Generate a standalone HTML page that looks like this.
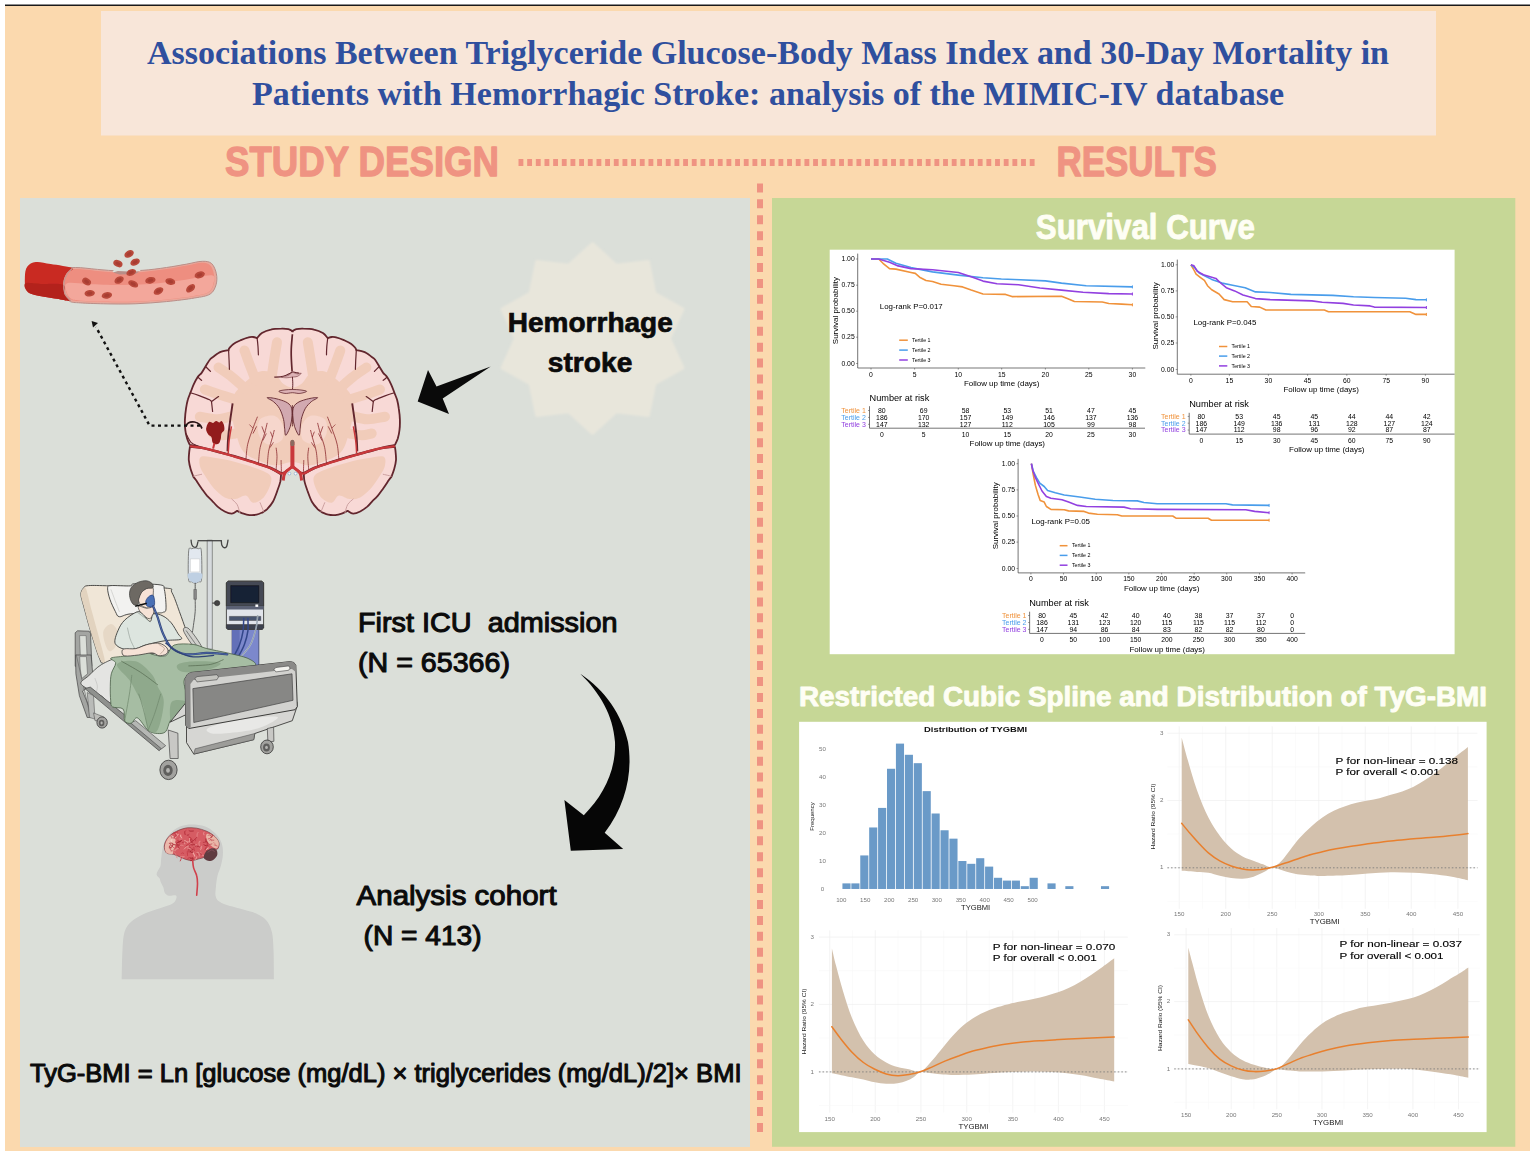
<!DOCTYPE html>
<html><head><meta charset="utf-8"><title>Graphical abstract</title>
<style>
html,body{margin:0;padding:0;background:#fff;}
body{width:1535px;height:1156px;overflow:hidden;font-family:"Liberation Sans",sans-serif;}
svg{display:block}
svg text{font-family:"Liberation Sans",sans-serif;}
.serif{font-family:"Liberation Serif",serif !important;}
</style></head><body>
<svg width="1535" height="1156" viewBox="0 0 1535 1156">
<defs>
<filter id="soft" x="-2%" y="-2%" width="104%" height="104%"><feGaussianBlur stdDeviation="0.45"/></filter>
<filter id="soft2" x="-2%" y="-2%" width="104%" height="104%"><feGaussianBlur stdDeviation="0.3"/></filter>
<filter id="blur1" x="-5%" y="-5%" width="110%" height="110%"><feGaussianBlur stdDeviation="1.1"/></filter>
</defs>
<rect x="0" y="0" width="1535" height="1156" fill="#ffffff"/>
<rect x="5" y="6" width="1525" height="1145" fill="#FBD9AE"/>
<rect x="5" y="4.5" width="1525" height="1.5" fill="#1a1a1a"/>
<rect x="101" y="11" width="1335" height="124.5" fill="#F8E6D9"/>
<g class="serif" font-weight="bold" font-size="34" fill="#2F4F9E" text-anchor="middle">
<text class="serif" x="768" y="64.3" textLength="1242" lengthAdjust="spacingAndGlyphs">Associations Between Triglyceride Glucose-Body Mass Index and 30-Day Mortality in</text>
<text class="serif" x="768" y="104.7" textLength="1032" lengthAdjust="spacingAndGlyphs">Patients with Hemorrhagic Stroke: analysis of the MIMIC-IV database</text>
</g>
<g font-weight="bold" fill="#EF9382" stroke="#EF9382" stroke-width="1.3" stroke-linejoin="round">
<text x="225" y="176" font-size="43" textLength="274" lengthAdjust="spacingAndGlyphs">STUDY DESIGN</text>
<text x="1056.6" y="176" font-size="43" textLength="160.3" lengthAdjust="spacingAndGlyphs">RESULTS</text>
</g>
<line x1="518.5" y1="162.5" x2="1035" y2="162.5" stroke="#EF9382" stroke-width="7" stroke-dasharray="4.85 3.815"/>
<line x1="760" y1="183.4" x2="760" y2="1132.2" stroke="#EF9382" stroke-width="6" stroke-dasharray="9 6.924"/>
<rect x="20" y="198" width="730" height="949" fill="#DBDFD9"/>
<rect x="772" y="198" width="743.3" height="948.8" fill="#C6D796"/>
<g font-weight="bold" fill="#FEFEF4" stroke="#FEFEF4" stroke-width="0.9" stroke-linejoin="round">
<text x="1035.8" y="238.5" font-size="35" textLength="219" lengthAdjust="spacingAndGlyphs">Survival Curve</text>
<text x="799" y="705.7" font-size="27" textLength="688" lengthAdjust="spacingAndGlyphs">Restricted Cubic Spline and Distribution of TyG-BMI</text>
</g>
<rect x="829.7" y="249.7" width="624.9" height="404.5" fill="#ffffff"/>
<rect x="799.1" y="721.8" width="687.5" height="410.3" fill="#ffffff"/>
<g id="vessel" filter="url(#soft2)">
<path d="M64.7,269.9 C66.9,267.8 70.2,267.6 75.7,267.5 C81.1,267.4 90.3,268.8 97.6,269.4 C104.9,270.0 111.9,270.8 119.4,271.0 C127.0,271.1 135.1,270.9 142.9,270.3 C150.7,269.8 159.1,268.6 166.4,267.5 C173.6,266.5 180.7,265.1 186.7,264.1 C192.7,263.0 198.1,261.3 202.3,261.3 C206.5,261.2 209.3,261.5 211.7,263.6 C214.0,265.7 215.7,270.3 216.4,273.8 C217.1,277.3 217.1,281.3 216.1,284.7 C215.0,288.1 213.7,291.9 210.1,294.1 C206.5,296.3 201.8,296.8 194.5,298.0 C187.2,299.3 176.3,300.6 166.4,301.6 C156.4,302.6 145.5,303.4 135.1,303.8 C124.7,304.2 112.9,304.0 103.8,303.8 C94.7,303.6 86.1,303.3 80.4,302.9 C74.6,302.4 72.1,302.9 69.4,301.1 C66.7,299.4 65.1,296.1 63.9,292.5 C62.8,289.0 62.2,283.8 62.4,280.0 C62.5,276.3 62.5,272.0 64.7,269.9 Z" fill="#E9A79A" stroke="#B98E88" stroke-width="1"/>
<path d="M67.1,271.0 C69.2,269.0 72.1,269.1 77.2,269.1 C82.3,269.1 90.5,270.4 97.6,271.0 C104.6,271.5 111.9,272.4 119.4,272.5 C127.0,272.7 135.1,272.5 142.9,271.9 C150.7,271.3 159.1,270.1 166.4,269.1 C173.6,268.0 180.8,266.7 186.7,265.6 C192.5,264.6 197.6,262.9 201.5,262.8 C205.4,262.8 208.0,263.2 210.1,265.2 C212.2,267.1 213.4,271.4 214.0,274.6 C214.6,277.7 214.7,280.9 213.7,283.9 C212.8,286.9 211.6,290.5 208.3,292.5 C204.9,294.6 200.7,295.1 193.7,296.3 C186.7,297.5 176.1,298.8 166.4,299.7 C156.6,300.7 145.5,301.6 135.1,301.9 C124.7,302.3 112.8,302.1 103.8,301.9 C94.8,301.8 86.6,301.6 81.1,301.1 C75.7,300.7 73.5,301.0 71.0,299.4 C68.4,297.9 67.1,294.9 66.0,291.8 C64.9,288.7 64.2,284.3 64.4,280.8 C64.6,277.3 64.9,272.9 67.1,271.0 Z" fill="#EE8E80"/>
<path d="M67.1,283.2 C70.7,281.9 79.4,283.6 88.2,283.9 C96.9,284.3 109.0,285.0 119.4,285.0 C129.9,285.0 140.3,284.7 150.7,283.9 C161.1,283.2 171.8,281.8 182.0,280.3 C192.1,278.9 206.5,274.7 211.7,275.3 C216.9,275.9 213.8,281.1 213.3,283.9 C212.7,286.8 211.5,290.2 208.3,292.2 C205.0,294.2 200.7,294.8 193.7,296.0 C186.7,297.2 176.1,298.5 166.4,299.4 C156.6,300.4 145.5,301.2 135.1,301.6 C124.7,302.0 112.8,301.8 103.8,301.6 C94.8,301.5 86.6,301.1 81.1,300.7 C75.7,300.2 73.7,300.3 71.3,298.8 C68.9,297.3 67.3,294.4 66.6,291.8 C65.9,289.2 63.5,284.5 67.1,283.2 Z" fill="#F3A79B"/>
<path d="M24.9,276.9 C25.0,273.0 25.4,269.2 27.2,266.7 C29.0,264.3 31.9,262.5 35.8,262.1 C39.7,261.6 44.5,263.0 50.7,264.1 C56.8,265.1 69.9,266.7 72.5,268.3 C75.1,269.9 67.9,271.3 66.3,273.8 C64.7,276.3 63.5,279.8 63.2,283.2 C62.8,286.5 63.2,291.2 64.4,294.1 C65.6,297.0 71.4,299.9 70.2,300.7 C68.9,301.5 62.8,299.8 56.9,298.8 C51.0,297.8 40.1,296.3 35.0,294.9 C29.9,293.5 28.1,293.2 26.4,290.2 C24.7,287.2 24.7,280.8 24.9,276.9 Z" fill="#C92A22"/>
<path d="M25.6,283.2 C28.1,282.1 35.0,283.7 41.3,283.9 C47.5,284.2 59.3,283.0 63.2,284.7 C67.0,286.4 63.2,291.4 64.4,294.1 C65.6,296.8 71.4,299.9 70.2,300.7 C68.9,301.5 62.8,299.8 56.9,298.8 C51.0,297.8 40.1,296.3 35.0,294.9 C29.9,293.5 28.0,292.1 26.4,290.2 C24.9,288.2 23.2,284.2 25.6,283.2 Z" fill="#B3241E"/>
<path d="M72.5,268.3 C71.6,269.2 68.5,271.3 67.1,273.8 C65.6,276.3 64.3,279.8 63.9,283.2 C63.6,286.5 63.9,291.2 65.0,294.1 C66.2,297.0 69.7,299.6 70.7,300.7" fill="none" stroke="#C9958E" stroke-width="1.4"/>
<polygon points="112.4,271.9 115.1,268.3 119.4,269.4 128.8,270.3 135.1,269.1 138.2,267.2 140.6,271.0 128.8,272.5 119.4,272.8" fill="#DBDFD9"/>
<polygon points="113.2,272.5 117.9,271.0 128.8,271.6 139.8,271.6 135.1,274.1 119.4,274.6" fill="#B98E88"/>
<g transform="translate(86.6,281.6) rotate(30)"><ellipse rx="4.7" ry="3.4" fill="#B8483A"/><ellipse rx="2.6" ry="1.7" fill="#A83E33"/></g>
<g transform="translate(89.7,293.3) rotate(-5)"><ellipse rx="5.2" ry="3.3" fill="#B8483A"/><ellipse rx="2.8" ry="1.6" fill="#A83E33"/></g>
<g transform="translate(106.9,295.4) rotate(-10)"><ellipse rx="5.2" ry="3.3" fill="#B8483A"/><ellipse rx="2.8" ry="1.6" fill="#A83E33"/></g>
<g transform="translate(119.1,280.0) rotate(-30)"><ellipse rx="5.0" ry="3.4" fill="#B8483A"/><ellipse rx="2.8" ry="1.7" fill="#A83E33"/></g>
<g transform="translate(131.2,272.5) rotate(-20)"><ellipse rx="5.0" ry="3.1" fill="#B8483A"/><ellipse rx="2.8" ry="1.6" fill="#A83E33"/></g>
<g transform="translate(133.2,283.9) rotate(25)"><ellipse rx="5.3" ry="3.1" fill="#B8483A"/><ellipse rx="2.9" ry="1.6" fill="#A83E33"/></g>
<g transform="translate(150.4,280.3) rotate(-12)"><ellipse rx="5.2" ry="3.3" fill="#B8483A"/><ellipse rx="2.8" ry="1.6" fill="#A83E33"/></g>
<g transform="translate(170.3,281.6) rotate(12)"><ellipse rx="5.0" ry="3.3" fill="#B8483A"/><ellipse rx="2.8" ry="1.6" fill="#A83E33"/></g>
<g transform="translate(158.5,291.0) rotate(-28)"><ellipse rx="5.2" ry="3.3" fill="#B8483A"/><ellipse rx="2.8" ry="1.6" fill="#A83E33"/></g>
<g transform="translate(190.6,288.3) rotate(-40)"><ellipse rx="5.2" ry="3.3" fill="#B8483A"/><ellipse rx="2.8" ry="1.6" fill="#A83E33"/></g>
<g transform="translate(199.7,274.9) rotate(-18)"><ellipse rx="5.2" ry="3.3" fill="#B8483A"/><ellipse rx="2.8" ry="1.6" fill="#A83E33"/></g>
<g transform="translate(129.1,253.9) rotate(-30)"><ellipse rx="5.0" ry="3.4" fill="#B8483A"/><ellipse rx="2.8" ry="1.7" fill="#A83E33"/></g>
<g transform="translate(117.9,263.6) rotate(25)"><ellipse rx="4.8" ry="3.3" fill="#B8483A"/><ellipse rx="2.7" ry="1.6" fill="#A83E33"/></g>
<g transform="translate(135.1,262.1) rotate(-25)"><ellipse rx="5.0" ry="3.3" fill="#B8483A"/><ellipse rx="2.8" ry="1.6" fill="#A83E33"/></g>
</g>
<g id="brain" filter="url(#soft2)">
<path d="M292.9,331.4 C292.2,331.0 290.4,329.7 288.5,329.2 C286.6,328.8 284.4,328.6 281.4,328.7 C278.5,328.7 274.0,328.8 270.8,329.6 C267.5,330.3 264.2,331.7 261.9,333.1 C259.6,334.5 257.9,337.3 257.1,338.1 L257.1,338.1 C256.4,337.9 254.6,337.1 253.0,337.0 C251.5,336.9 249.8,337.0 247.7,337.6 C245.6,338.1 243.0,339.2 240.6,340.2 C238.3,341.3 235.4,342.6 233.5,343.9 C231.7,345.2 230.3,347.0 229.4,348.0 C228.6,349.1 228.7,349.8 228.6,350.2 L228.6,350.2 C227.7,350.3 224.9,350.7 223.2,351.2 C221.6,351.7 220.1,352.0 218.5,353.0 C216.8,353.9 214.6,355.8 213.1,356.9 C211.7,358.0 211.0,358.1 209.8,359.7 C208.5,361.3 206.9,364.3 205.5,366.5 C204.1,368.7 202.9,371.1 201.6,372.9 C200.3,374.6 199.0,375.1 197.7,377.1 C196.4,379.1 194.8,382.1 193.6,384.7 C192.4,387.3 191.0,391.4 190.4,392.7 L190.4,392.7 C190.0,393.9 188.5,397.2 187.8,399.8 C187.0,402.5 186.5,405.3 186.0,408.7 C185.5,412.0 185.1,416.3 184.9,419.9 C184.8,423.4 184.9,426.9 185.3,430.0 C185.6,433.1 186.3,436.0 187.1,438.5 C187.8,441.0 189.4,443.9 189.9,445.0 L189.9,445.0 C191.6,445.3 195.5,445.8 199.8,446.8 C204.1,447.8 210.2,449.4 215.8,450.9 C221.4,452.4 227.3,453.9 233.5,455.7 C239.7,457.5 246.8,459.6 253.0,461.5 C259.2,463.5 266.0,465.7 270.8,467.6 C275.5,469.5 278.8,472.4 281.4,472.9 C284.1,473.4 284.9,471.8 286.7,470.8 C288.6,469.7 291.5,467.1 292.4,466.3 L292.4,466.3 C293.4,467.1 296.3,469.7 298.1,470.8 C299.9,471.8 300.7,473.4 303.4,472.9 C306.1,472.4 309.3,469.5 314.0,467.6 C318.8,465.7 325.6,463.5 331.8,461.5 C338.0,459.6 345.1,457.5 351.3,455.7 C357.5,453.9 363.4,452.4 369.0,450.9 C374.6,449.4 380.7,447.8 385.0,446.8 C389.3,445.8 393.3,445.3 394.9,445.0 L394.9,445.0 C395.4,443.9 397.0,441.0 397.8,438.5 C398.5,436.0 399.2,433.1 399.5,430.0 C399.9,426.9 400.0,423.4 399.9,419.9 C399.8,416.3 399.3,412.0 398.8,408.7 C398.4,405.3 397.8,402.5 397.1,399.8 C396.3,397.2 394.8,393.9 394.4,392.7 L394.4,392.7 C393.9,391.4 392.4,387.3 391.2,384.7 C390.0,382.1 388.5,379.1 387.1,377.1 C385.8,375.1 384.5,374.6 383.2,372.9 C381.9,371.1 380.7,368.7 379.3,366.5 C378.0,364.3 376.3,361.3 375.1,359.7 C373.8,358.1 373.1,358.0 371.7,356.9 C370.2,355.8 368.1,353.9 366.4,353.0 C364.7,352.0 363.3,351.7 361.6,351.2 C359.9,350.7 357.1,350.3 356.3,350.2 L356.3,350.2 C356.1,349.8 356.2,349.1 355.4,348.0 C354.5,347.0 353.2,345.2 351.3,343.9 C349.4,342.6 346.6,341.3 344.2,340.2 C341.8,339.2 339.2,338.1 337.1,337.6 C335.0,337.0 333.4,336.9 331.8,337.0 C330.2,337.1 328.4,337.9 327.7,338.1 L327.7,338.1 C326.9,337.3 325.2,334.5 322.9,333.1 C320.6,331.7 317.3,330.3 314.0,329.6 C310.8,328.8 306.4,328.7 303.4,328.7 C300.5,328.6 298.2,328.8 296.3,329.2 C294.4,329.7 292.6,331.0 291.9,331.4 Z" fill="#F8D9D6" stroke="#62262D" stroke-width="1.8" stroke-linejoin="round"/>
<path d="M189.9,447.0 C191.8,447.2 197.0,447.2 201.6,448.1 C206.2,448.9 211.9,450.7 217.6,452.1 C223.2,453.6 229.4,455.2 235.3,456.9 C241.2,458.6 247.1,460.3 253.0,462.2 C258.9,464.2 266.1,466.6 270.8,468.6 C275.4,470.6 279.3,473.4 281.1,474.3 L281.1,474.3 C280.9,475.5 280.9,478.7 280.4,481.4 C279.8,484.1 278.8,486.9 277.5,490.3 C276.3,493.7 274.6,498.7 272.9,501.8 C271.2,504.9 268.9,507.3 267.2,509.1 C265.5,510.8 263.5,511.7 262.8,512.3 L262.8,512.3 C261.8,512.7 258.8,514.3 256.6,514.7 C254.4,515.2 251.9,515.3 249.5,515.1 C247.1,514.9 244.5,514.0 242.4,513.3 C240.3,512.6 238.0,511.3 237.1,510.8 L237.1,510.8 C236.2,511.3 233.8,513.6 231.8,513.7 C229.7,513.8 227.0,512.7 224.7,511.5 C222.3,510.4 219.6,508.3 217.6,506.6 C215.6,504.9 213.4,502.1 212.6,501.3 L212.6,501.3 C211.7,500.3 208.8,497.7 206.9,495.6 C205.1,493.5 203.4,491.0 201.6,488.5 C199.8,486.0 197.6,482.5 196.3,480.5 C194.9,478.6 193.9,477.4 193.4,476.8 L193.4,476.8 C193.0,475.5 191.4,471.8 190.6,469.0 C189.8,466.2 189.1,462.9 188.8,460.1 C188.6,457.3 189.0,454.3 189.2,452.1 C189.4,449.9 189.8,447.8 189.9,447.0 Z" fill="#F8D9D6" stroke="#62262D" stroke-width="1.8" stroke-linejoin="round"/>
<path d="M394.9,447.0 C395.0,447.8 395.5,449.9 395.6,452.1 C395.8,454.3 396.2,457.3 396.0,460.1 C395.8,462.9 395.0,466.2 394.2,469.0 C393.4,471.8 391.9,475.5 391.4,476.8 L391.4,476.8 C390.9,477.4 389.9,478.6 388.5,480.5 C387.2,482.5 385.0,486.0 383.2,488.5 C381.4,491.0 379.7,493.5 377.9,495.6 C376.1,497.7 373.2,500.3 372.2,501.3 L372.2,501.3 C371.4,502.1 369.3,504.9 367.3,506.6 C365.2,508.3 362.5,510.4 360.2,511.5 C357.8,512.7 355.1,513.8 353.1,513.7 C351.0,513.6 348.6,511.3 347.7,510.8 L347.7,510.8 C346.9,511.3 344.5,512.6 342.4,513.3 C340.4,514.0 337.7,514.9 335.3,515.1 C333.0,515.3 330.5,515.2 328.2,514.7 C326.0,514.3 323.1,512.7 322.0,512.3 L322.0,512.3 C321.3,511.7 319.3,510.8 317.6,509.1 C315.9,507.3 313.6,504.9 311.9,501.8 C310.2,498.7 308.6,493.7 307.3,490.3 C306.1,486.9 305.1,484.1 304.5,481.4 C303.9,478.7 303.9,475.5 303.8,474.3 L303.8,474.3 C305.5,473.4 309.4,470.6 314.0,468.6 C318.7,466.6 325.9,464.2 331.8,462.2 C337.7,460.3 343.6,458.6 349.5,456.9 C355.4,455.2 361.6,453.6 367.3,452.1 C372.9,450.7 378.6,448.9 383.2,448.1 C387.8,447.2 393.0,447.2 394.9,447.0 Z" fill="#F8D9D6" stroke="#62262D" stroke-width="1.8" stroke-linejoin="round"/>
<path d="M249.5,378.5 C253.8,374.7 256.0,372.3 260.1,371.4 C264.3,370.5 270.5,371.1 274.3,373.2 C278.2,375.3 280.2,381.5 283.2,383.8 C286.2,386.2 289.3,387.4 292.4,387.4 C295.5,387.4 298.6,386.2 301.6,383.8 C304.6,381.5 306.7,375.3 310.5,373.2 C314.3,371.1 320.6,370.5 324.7,371.4 C328.8,372.3 331.0,374.7 335.3,378.5 C339.6,382.4 347.6,388.9 350.6,394.5 C353.6,400.1 353.5,405.7 353.2,412.2 C352.9,418.7 350.7,427.0 348.8,433.5 C346.9,440.0 345.3,446.8 341.7,451.2 C338.2,455.7 332.8,457.7 327.5,460.1 C322.2,462.5 315.6,465.1 309.8,465.4 C303.9,465.7 298.2,461.9 292.4,461.9 C286.6,461.9 280.9,465.7 275.0,465.4 C269.2,465.1 262.6,462.5 257.3,460.1 C252.0,457.7 246.7,455.7 243.1,451.2 C239.6,446.8 237.9,440.0 236.0,433.5 C234.1,427.0 231.9,418.7 231.6,412.2 C231.3,405.7 231.3,400.1 234.2,394.5 C237.2,388.9 245.2,382.4 249.5,378.5 Z" fill="#F1CCBA"/>
<path d="M271.7,376.8 C272.1,373.8 273.4,364.8 274.3,359.0 C275.2,353.3 276.5,345.0 277.0,342.2" fill="none" stroke="#F1CCBA" stroke-width="10" stroke-linecap="round" stroke-linejoin="round"/>
<path d="M313.2,376.8 C312.7,373.8 311.4,364.8 310.5,359.0 C309.6,353.3 308.3,345.0 307.8,342.2" fill="none" stroke="#F1CCBA" stroke-width="10" stroke-linecap="round" stroke-linejoin="round"/>
<path d="M255.7,380.3 C254.7,377.6 251.4,369.3 249.5,364.3 C247.6,359.4 245.4,352.8 244.5,350.5" fill="none" stroke="#F1CCBA" stroke-width="10" stroke-linecap="round" stroke-linejoin="round"/>
<path d="M329.1,380.3 C330.2,377.6 333.5,369.3 335.3,364.3 C337.2,359.4 339.5,352.8 340.3,350.5" fill="none" stroke="#F1CCBA" stroke-width="10" stroke-linecap="round" stroke-linejoin="round"/>
<path d="M245.9,389.2 C243.6,387.1 236.3,380.4 231.8,376.8 C227.2,373.1 220.7,369.1 218.5,367.5" fill="none" stroke="#F1CCBA" stroke-width="10" stroke-linecap="round" stroke-linejoin="round"/>
<path d="M338.9,389.2 C341.2,387.1 348.5,380.4 353.1,376.8 C357.6,373.1 364.2,369.1 366.4,367.5" fill="none" stroke="#F1CCBA" stroke-width="10" stroke-linecap="round" stroke-linejoin="round"/>
<path d="M236.2,399.8 C233.4,398.9 224.6,396.2 219.3,394.5 C214.1,392.8 207.2,390.4 204.8,389.5" fill="none" stroke="#F1CCBA" stroke-width="10" stroke-linecap="round" stroke-linejoin="round"/>
<path d="M348.6,399.8 C351.4,398.9 360.3,396.2 365.5,394.5 C370.7,392.8 377.6,390.4 380.0,389.5" fill="none" stroke="#F1CCBA" stroke-width="10" stroke-linecap="round" stroke-linejoin="round"/>
<path d="M233.5,415.8 C230.9,416.4 223.2,419.2 217.6,419.3 C211.9,419.5 202.8,417.1 199.8,416.7" fill="none" stroke="#F1CCBA" stroke-width="10" stroke-linecap="round" stroke-linejoin="round"/>
<path d="M351.3,415.8 C354.0,416.4 361.6,419.2 367.3,419.3 C372.9,419.5 382.0,417.1 385.0,416.7" fill="none" stroke="#F1CCBA" stroke-width="10" stroke-linecap="round" stroke-linejoin="round"/>
<path d="M235.3,433.5 C233.2,433.8 226.6,435.3 222.9,435.3 C219.2,435.3 214.8,433.8 213.1,433.5" fill="none" stroke="#F1CCBA" stroke-width="10" stroke-linecap="round" stroke-linejoin="round"/>
<path d="M349.5,433.5 C351.6,433.8 358.2,435.3 361.9,435.3 C365.6,435.3 370.1,433.8 371.7,433.5" fill="none" stroke="#F1CCBA" stroke-width="10" stroke-linecap="round" stroke-linejoin="round"/>
<path d="M201.6,456.6 C204.6,455.4 211.9,457.5 217.6,458.3 C223.2,459.2 229.4,460.4 235.3,461.9 C241.2,463.4 247.4,465.1 253.0,467.2 C258.7,469.3 266.0,471.6 269.0,474.3 C272.0,477.0 271.7,479.3 270.8,483.2 C269.9,487.0 266.6,494.1 263.7,497.4 C260.7,500.6 256.0,503.0 253.0,502.7 C250.1,502.4 248.9,496.2 245.9,495.6 C243.0,495.0 238.8,498.8 235.3,499.1 C231.8,499.4 228.2,499.1 224.7,497.4 C221.1,495.6 217.3,492.0 214.0,488.5 C210.8,484.9 207.5,479.9 205.2,476.1 C202.8,472.2 200.4,468.7 199.8,465.4 C199.2,462.2 198.6,457.7 201.6,456.6 Z" fill="#F1CCBA"/>
<path d="M383.2,456.6 C380.3,455.4 372.9,457.5 367.3,458.3 C361.6,459.2 355.4,460.4 349.5,461.9 C343.6,463.4 337.4,465.1 331.8,467.2 C326.2,469.3 318.8,471.6 315.8,474.3 C312.9,477.0 313.2,479.3 314.0,483.2 C314.9,487.0 318.2,494.1 321.1,497.4 C324.1,500.6 328.8,503.0 331.8,502.7 C334.7,502.4 335.9,496.2 338.9,495.6 C341.8,495.0 346.0,498.8 349.5,499.1 C353.1,499.4 356.6,499.1 360.2,497.4 C363.7,495.6 367.6,492.0 370.8,488.5 C374.1,484.9 377.3,479.9 379.7,476.1 C382.0,472.2 384.4,468.7 385.0,465.4 C385.6,462.2 386.2,457.7 383.2,456.6 Z" fill="#F1CCBA"/>
<path d="M260.1,419.3 C262.8,416.4 270.5,414.6 274.3,415.8 C278.2,417.0 282.0,422.3 283.2,426.4 C284.4,430.6 284.1,437.6 281.4,440.6 C278.8,443.6 271.1,445.3 267.2,444.2 C263.4,443.0 259.5,437.6 258.4,433.5 C257.2,429.4 257.5,422.3 260.1,419.3 Z" fill="#F6D6CC"/>
<path d="M324.7,419.3 C322.0,416.4 314.3,414.6 310.5,415.8 C306.7,417.0 302.8,422.3 301.6,426.4 C300.5,430.6 300.7,437.6 303.4,440.6 C306.1,443.6 313.8,445.3 317.6,444.2 C321.4,443.0 325.3,437.6 326.5,433.5 C327.6,429.4 327.4,422.3 324.7,419.3 Z" fill="#F6D6CC"/>
<path d="M257.1,338.1 C257.3,339.5 257.8,343.8 258.0,346.6 C258.2,349.4 258.3,353.4 258.4,354.8" fill="none" stroke="#62262D" stroke-width="1.2" stroke-linecap="round"/>
<path d="M327.7,338.1 C327.6,339.5 327.0,343.8 326.8,346.6 C326.6,349.4 326.5,353.4 326.5,354.8" fill="none" stroke="#62262D" stroke-width="1.2" stroke-linecap="round"/>
<path d="M228.6,350.2 C228.7,351.9 228.9,357.6 229.1,360.8 C229.2,364.0 229.4,367.9 229.4,369.3" fill="none" stroke="#62262D" stroke-width="1.2" stroke-linecap="round"/>
<path d="M356.3,350.2 C356.2,351.9 355.9,357.6 355.7,360.8 C355.6,364.0 355.4,367.9 355.4,369.3" fill="none" stroke="#62262D" stroke-width="1.2" stroke-linecap="round"/>
<path d="M190.4,392.7 C192.0,393.2 196.6,394.7 199.8,395.9 C203.0,397.1 207.6,398.9 209.6,399.8 C211.5,400.8 211.2,401.3 211.5,401.6" fill="none" stroke="#62262D" stroke-width="1.2" stroke-linecap="round"/>
<path d="M394.4,392.7 C392.8,393.2 388.2,394.7 385.0,395.9 C381.8,397.1 377.2,398.9 375.2,399.8 C373.3,400.8 373.6,401.3 373.3,401.6" fill="none" stroke="#62262D" stroke-width="1.2" stroke-linecap="round"/>
<path d="M211.5,401.6 C212.7,400.8 217.4,397.4 218.6,396.6" fill="none" stroke="#62262D" stroke-width="1.2" stroke-linecap="round"/>
<path d="M373.3,401.6 C372.1,400.8 367.4,397.4 366.2,396.6" fill="none" stroke="#62262D" stroke-width="1.2" stroke-linecap="round"/>
<path d="M211.5,401.6 C211.7,403.2 212.4,409.9 212.6,411.5" fill="none" stroke="#62262D" stroke-width="1.2" stroke-linecap="round"/>
<path d="M373.3,401.6 C373.1,403.2 372.4,409.9 372.2,411.5" fill="none" stroke="#62262D" stroke-width="1.2" stroke-linecap="round"/>
<path d="M205.5,366.5 C206.3,367.3 209.6,370.6 210.5,371.4" fill="none" stroke="#62262D" stroke-width="1.2" stroke-linecap="round"/>
<path d="M379.3,366.5 C378.5,367.3 375.2,370.6 374.4,371.4" fill="none" stroke="#62262D" stroke-width="1.2" stroke-linecap="round"/>
<path d="M197.7,377.1 C198.4,377.6 201.0,379.8 201.6,380.3" fill="none" stroke="#62262D" stroke-width="1.2" stroke-linecap="round"/>
<path d="M387.1,377.1 C386.5,377.6 383.9,379.8 383.2,380.3" fill="none" stroke="#62262D" stroke-width="1.2" stroke-linecap="round"/>
<path d="M239.7,512.6 C239.3,511.3 238.4,506.7 237.1,504.5 C235.7,502.2 232.6,500.0 231.8,499.1" fill="none" stroke="#C79A9A" stroke-width="0.9" stroke-linecap="round"/>
<path d="M345.1,512.6 C345.5,511.3 346.4,506.7 347.7,504.5 C349.1,502.2 352.2,500.0 353.1,499.1" fill="none" stroke="#C79A9A" stroke-width="0.9" stroke-linecap="round"/>
<path d="M263.7,511.5 C263.1,510.1 260.7,504.2 260.1,502.7" fill="none" stroke="#C79A9A" stroke-width="0.9" stroke-linecap="round"/>
<path d="M321.1,511.5 C321.7,510.1 324.1,504.2 324.7,502.7" fill="none" stroke="#C79A9A" stroke-width="0.9" stroke-linecap="round"/>
<path d="M193.6,476.1 C195.0,475.8 200.3,474.6 201.6,474.3" fill="none" stroke="#C79A9A" stroke-width="0.9" stroke-linecap="round"/>
<path d="M391.2,476.1 C389.9,475.8 384.5,474.6 383.2,474.3" fill="none" stroke="#C79A9A" stroke-width="0.9" stroke-linecap="round"/>
<path d="M292.4,334.2 C292.2,337.1 291.2,345.7 291.2,351.9 C291.1,358.1 291.9,368.2 292.1,371.4" fill="none" stroke="#62262D" stroke-width="1.7"/>
<path d="M274.3,377.1 C275.8,377.0 280.5,377.1 283.2,376.4 C285.8,375.7 288.7,374.0 290.3,373.2 C291.8,372.4 292.1,372.0 292.4,371.8" fill="none" stroke="#62262D" stroke-width="1.2"/>
<path d="M299.2,373.2 C298.6,373.1 296.7,372.7 295.6,372.5 C294.5,372.3 292.9,371.9 292.4,371.8" fill="none" stroke="#62262D" stroke-width="1.2"/>
<path d="M281.4,377.1 C281.7,376.7 286.7,376.1 288.5,375.3 C290.3,374.6 290.9,372.7 292.4,372.5 C293.9,372.3 295.9,373.8 297.4,373.9 C298.9,374.0 301.3,372.8 301.3,373.2 C301.3,373.6 298.9,375.7 297.4,376.4 C295.9,377.1 294.2,376.9 292.4,377.1 C290.6,377.3 288.6,377.8 286.7,377.8 C284.9,377.8 281.1,377.5 281.4,377.1 Z" fill="#DDB3B6" stroke="#62262D" stroke-width="0.5"/>
<path d="M292.4,376.8 C292.5,377.9 292.8,381.5 292.8,383.8 C292.8,386.2 292.5,389.5 292.4,390.6" fill="none" stroke="#62262D" stroke-width="1"/>
<path d="M278.8,391.3 C278.8,390.7 282.7,390.2 285.0,389.9 C287.2,389.6 289.9,389.5 292.4,389.5 C294.9,389.5 297.5,389.6 299.9,389.9 C302.2,390.2 306.6,390.7 306.6,391.3 C306.6,391.9 302.2,393.2 299.9,393.4 C297.5,393.7 294.9,392.7 292.4,392.7 C289.9,392.7 287.2,393.7 285.0,393.4 C282.7,393.2 278.8,391.9 278.8,391.3 Z" fill="#DDB3B6" stroke="#62262D" stroke-width="0.8"/>
<path d="M267.2,397.7 C267.7,397.2 273.0,398.0 276.1,398.7 C279.2,399.5 283.3,400.6 285.8,401.9 C288.4,403.3 290.1,404.6 291.2,406.9 C292.2,409.2 292.2,412.5 292.1,415.8 C291.9,419.0 291.3,423.2 290.3,426.4 C289.2,429.7 286.8,435.0 285.8,435.3 C284.9,435.6 285.0,430.8 284.6,428.2 C284.2,425.5 284.4,422.6 283.5,419.3 C282.7,416.1 281.3,411.6 279.6,408.7 C278.0,405.7 275.5,403.4 273.4,401.6 C271.4,399.8 266.8,398.2 267.2,397.7 Z" fill="#D2A9B0" stroke="#62262D" stroke-width="0.9"/>
<path d="M317.6,397.7 C317.2,397.2 311.8,398.0 308.7,398.7 C305.6,399.5 301.5,400.6 299.0,401.9 C296.5,403.3 294.7,404.6 293.7,406.9 C292.6,409.2 292.6,412.5 292.8,415.8 C292.9,419.0 293.5,423.2 294.5,426.4 C295.6,429.7 298.0,435.0 299.0,435.3 C299.9,435.6 299.8,430.8 300.2,428.2 C300.6,425.5 300.5,422.6 301.3,419.3 C302.1,416.1 303.5,411.6 305.2,408.7 C306.9,405.7 309.3,403.4 311.4,401.6 C313.5,399.8 318.0,398.2 317.6,397.7 Z" fill="#D2A9B0" stroke="#62262D" stroke-width="0.9"/>
<path d="M292.4,405.1 C292.4,408.7 292.4,422.9 292.4,426.4" stroke="#62262D" stroke-width="0.9" fill="none"/>
<path d="M186.0,426.4 C186.4,425.8 186.9,423.6 188.3,422.9 C189.7,422.1 192.6,421.7 194.5,422.0 C196.4,422.3 198.6,423.5 199.8,424.6 C201.1,425.7 201.6,427.9 202.0,428.5" fill="none" stroke="#2a1214" stroke-width="1.7"/>
<path d="M186.0,433.5 C186.8,435.0 189.0,440.2 191.0,442.4 C193.0,444.5 196.9,445.6 198.1,446.3" fill="none" stroke="#62262D" stroke-width="1.1"/>
<path d="M232.6,403.4 C232.3,406.0 231.1,413.7 230.3,419.3 C229.6,424.9 228.7,431.7 228.2,437.1 C227.7,442.4 227.6,448.9 227.5,451.2" fill="none" stroke="#62262D" stroke-width="1.9"/>
<path d="M352.2,403.4 C352.6,406.0 353.7,413.7 354.5,419.3 C355.2,424.9 356.1,431.7 356.6,437.1 C357.1,442.4 357.2,448.9 357.3,451.2" fill="none" stroke="#62262D" stroke-width="1.9"/>
<path d="M191.0,446.3 C193.0,446.6 198.6,447.1 203.4,448.1 C208.1,449.0 214.0,450.7 219.3,452.1 C224.7,453.6 229.7,455.2 235.3,456.9 C240.9,458.6 247.1,460.3 253.0,462.2 C258.9,464.1 266.0,466.4 270.8,468.3 C275.5,470.2 278.8,473.2 281.4,473.6 C284.1,474.0 284.9,471.9 286.7,470.8 C288.6,469.6 291.5,467.2 292.4,466.5" fill="none" stroke="#C9383A" stroke-width="2.3" stroke-linecap="round"/>
<path d="M393.9,446.3 C391.8,446.6 386.2,447.1 381.4,448.1 C376.7,449.0 370.8,450.7 365.5,452.1 C360.2,453.6 355.1,455.2 349.5,456.9 C343.9,458.6 337.7,460.3 331.8,462.2 C325.9,464.1 318.8,466.4 314.0,468.3 C309.3,470.2 306.1,473.2 303.4,473.6 C300.7,474.0 299.9,471.9 298.1,470.8 C296.3,469.6 293.4,467.2 292.4,466.5" fill="none" stroke="#C9383A" stroke-width="2.3" stroke-linecap="round"/>
<path d="M228.2,453.0 C228.4,450.9 228.6,445.0 229.1,440.6 C229.6,436.2 231.0,428.8 231.4,426.4" fill="none" stroke="#C9383A" stroke-width="1.5"/>
<path d="M356.6,453.0 C356.5,450.9 356.3,445.0 355.7,440.6 C355.2,436.2 353.8,428.8 353.4,426.4" fill="none" stroke="#C9383A" stroke-width="1.5"/>
<path d="M292.4,442.4 C292.4,446.4 292.4,462.5 292.4,466.5" fill="none" stroke="#C9383A" stroke-width="4" stroke-linecap="round"/>
<path d="M292.4,441.7 C292.4,442.1 292.4,443.7 292.4,444.2" fill="none" stroke="#8a6a5e" stroke-width="4" stroke-linecap="round"/>
<path d="M292.4,466.5 C291.2,467.6 286.5,470.5 285.0,472.9 C283.4,475.2 283.5,479.2 283.2,480.5" fill="none" stroke="#C9383A" stroke-width="3"/>
<path d="M292.4,466.5 C293.7,467.6 298.3,470.5 299.9,472.9 C301.4,475.2 301.3,479.2 301.6,480.5" fill="none" stroke="#C9383A" stroke-width="3"/>
<circle cx="289.4" cy="473.6" r="1.4" fill="#fff" stroke="#7C9CC8" stroke-width="0.6"/>
<circle cx="295.6" cy="473.6" r="1.4" fill="#fff" stroke="#7C9CC8" stroke-width="0.6"/>
<path d="M245.9,460.1 C246.2,457.5 246.5,449.5 247.7,444.2 C248.9,438.8 251.4,432.8 253.0,428.2 C254.7,423.6 256.7,418.6 257.5,416.7" fill="none" stroke="#8B2B2F" stroke-width="0.8"/>
<path d="M338.9,460.1 C338.6,457.5 338.3,449.5 337.1,444.2 C335.9,438.8 333.4,432.8 331.8,428.2 C330.2,423.6 328.1,418.6 327.4,416.7" fill="none" stroke="#8B2B2F" stroke-width="0.8"/>
<path d="M253.0,428.2 C252.4,427.6 250.1,425.2 249.5,424.6" fill="none" stroke="#8B2B2F" stroke-width="0.8"/>
<path d="M331.8,428.2 C332.4,427.6 334.7,425.2 335.3,424.6" fill="none" stroke="#8B2B2F" stroke-width="0.8"/>
<path d="M253.0,433.5 C253.6,432.3 256.0,427.6 256.6,426.4" fill="none" stroke="#8B2B2F" stroke-width="0.8"/>
<path d="M331.8,433.5 C331.2,432.3 328.8,427.6 328.2,426.4" fill="none" stroke="#8B2B2F" stroke-width="0.8"/>
<path d="M258.4,463.7 C258.7,461.0 259.1,452.7 260.1,447.7 C261.2,442.7 263.4,437.6 264.6,433.5 C265.7,429.4 266.8,424.6 267.2,422.9" fill="none" stroke="#8B2B2F" stroke-width="0.8"/>
<path d="M326.5,463.7 C326.2,461.0 325.7,452.7 324.7,447.7 C323.7,442.7 321.4,437.6 320.3,433.5 C319.1,429.4 318.0,424.6 317.6,422.9" fill="none" stroke="#8B2B2F" stroke-width="0.8"/>
<path d="M264.6,433.5 C264.1,432.3 262.3,427.6 261.9,426.4" fill="none" stroke="#8B2B2F" stroke-width="0.8"/>
<path d="M320.3,433.5 C320.7,432.3 322.5,427.6 322.9,426.4" fill="none" stroke="#8B2B2F" stroke-width="0.8"/>
<path d="M262.8,440.6 C263.4,439.4 265.7,434.7 266.3,433.5" fill="none" stroke="#8B2B2F" stroke-width="0.8"/>
<path d="M322.0,440.6 C321.4,439.4 319.1,434.7 318.5,433.5" fill="none" stroke="#8B2B2F" stroke-width="0.8"/>
<path d="M267.2,466.5 C267.5,464.0 267.8,456.2 268.6,451.2 C269.5,446.3 271.6,440.6 272.5,437.1 C273.5,433.5 274.0,431.1 274.3,430.0" fill="none" stroke="#8B2B2F" stroke-width="0.8"/>
<path d="M317.6,466.5 C317.4,464.0 317.1,456.2 316.2,451.2 C315.3,446.3 313.2,440.6 312.3,437.1 C311.3,433.5 310.8,431.1 310.5,430.0" fill="none" stroke="#8B2B2F" stroke-width="0.8"/>
<path d="M272.5,437.1 C272.2,436.2 270.8,432.6 270.4,431.7" fill="none" stroke="#8B2B2F" stroke-width="0.8"/>
<path d="M312.3,437.1 C312.6,436.2 314.0,432.6 314.4,431.7" fill="none" stroke="#8B2B2F" stroke-width="0.8"/>
<path d="M269.9,447.7 C270.5,446.8 272.8,443.3 273.4,442.4" fill="none" stroke="#8B2B2F" stroke-width="0.8"/>
<path d="M314.9,447.7 C314.3,446.8 312.0,443.3 311.4,442.4" fill="none" stroke="#8B2B2F" stroke-width="0.8"/>
<path d="M276.1,469.9 C276.2,467.7 277.0,460.3 277.0,456.6 C277.0,452.9 276.2,449.2 276.1,447.7" fill="none" stroke="#8B2B2F" stroke-width="0.8"/>
<path d="M308.7,469.9 C308.6,467.7 307.8,460.3 307.8,456.6 C307.8,452.9 308.6,449.2 308.7,447.7" fill="none" stroke="#8B2B2F" stroke-width="0.8"/>
<path d="M281.4,472.5 C281.4,470.5 281.1,462.2 281.1,460.1" fill="none" stroke="#8B2B2F" stroke-width="0.8"/>
<path d="M303.4,472.5 C303.5,470.5 303.7,462.2 303.8,460.1" fill="none" stroke="#8B2B2F" stroke-width="0.8"/>
<path d="M206.6,426.4 C207.0,425.0 208.0,422.6 209.1,422.0 C210.1,421.4 211.9,423.0 213.1,422.9 C214.3,422.7 215.1,421.2 216.1,421.1 C217.2,421.0 218.5,422.5 219.3,422.5 C220.2,422.5 220.7,420.7 221.5,421.1 C222.2,421.4 223.3,423.2 223.8,424.6 C224.2,426.1 224.7,428.5 224.3,430.0 C223.9,431.4 222.1,432.0 221.5,433.5 C220.9,435.0 221.2,437.2 220.8,438.8 C220.3,440.5 219.9,442.4 219.0,443.3 C218.1,444.2 216.5,444.3 215.4,444.2 C214.4,444.0 213.3,443.6 212.6,442.4 C211.9,441.2 212.1,438.4 211.4,437.1 C210.6,435.7 209.2,435.5 208.3,434.4 C207.5,433.3 206.5,431.6 206.2,430.3 C205.9,429.0 206.1,427.8 206.6,426.4 Z" fill="#921B1B"/>
<path d="M214.4,443.3 C214.2,444.2 213.3,447.7 213.1,448.6" fill="none" stroke="#C9383A" stroke-width="2"/>
</g>
<g id="icu" filter="url(#soft2)">
<path d="M232.1,629.4 L258.8,629.4 L258.8,666.3 L232.1,662.2 Z" fill="#7C88CC" stroke="#3b4270" stroke-width="0.8" stroke-linejoin="round"/>
<path d="M232.1,629.4 L239.6,629.4 L239.6,663.6 L232.1,662.2 Z" fill="#6470B8" stroke="none" stroke-width="0" stroke-linejoin="round"/>
<path d="M226.4,582.9 L228.0,581.2 L261.9,581.2 L263.6,582.9 L263.6,628.0 L262.2,629.4 L227.7,629.4 L226.4,628.0 Z" fill="#E1E4EA" stroke="#3c3c3a" stroke-width="0.9" stroke-linejoin="round"/>
<path d="M226.4,582.9 L228.0,581.2 L261.9,581.2 L263.6,582.9 L263.6,606.1 L226.4,606.1 Z" fill="#454A55" stroke="#3c3c3a" stroke-width="0.9" stroke-linejoin="round"/>
<path d="M230.7,585.6 L258.8,585.6 L258.8,602.7 L230.7,602.7 Z" fill="#162035" stroke="#111" stroke-width="0.5" stroke-linejoin="round"/>
<path d="M226.4,606.1 L263.6,606.1 L263.6,609.6 L226.4,609.6 Z" fill="#5B6275" stroke="none" stroke-width="0" stroke-linejoin="round"/>
<rect x="255.4" y="604.5" width="2.8" height="2.4" fill="#fff"/>
<path d="M229.4,616.4 L260.8,616.4 L260.8,620.5 L229.4,620.5 Z" fill="#4A5570" stroke="#333" stroke-width="0.4" stroke-linejoin="round"/>
<path d="M226.4,624.6 L263.6,624.6 L263.6,628.0 L262.2,629.4 L227.7,629.4 L226.4,628.0 Z" fill="#3d4250" stroke="#3c3c3a" stroke-width="0.6" stroke-linejoin="round"/>
<path d="M243.7,618.5 C243.6,620.5 243.7,626.4 243.1,630.8 C242.4,635.1 241.1,640.3 239.6,644.4 C238.2,648.6 235.1,653.6 234.2,655.4" fill="none" stroke="#33468A" stroke-width="1.5" stroke-linejoin="round" stroke-linecap="round"/>
<path d="M247.9,618.5 C247.9,620.5 248.4,626.4 247.9,630.8 C247.3,635.1 246.0,640.1 244.4,644.4 C242.8,648.8 239.3,654.7 238.3,656.8" fill="none" stroke="#33468A" stroke-width="1.5" stroke-linejoin="round" stroke-linecap="round"/>
<path d="M257.7,615.7 C257.4,617.8 257.2,623.2 256.1,628.0 C254.9,632.8 253.1,639.7 250.6,644.4 C248.1,649.2 242.6,654.7 241.0,656.8" fill="none" stroke="#B8C8D8" stroke-width="1.5" stroke-linejoin="round" stroke-linecap="round"/>
<path d="M257.7,615.7 C257.4,617.8 257.2,623.2 256.1,628.0 C254.9,632.8 253.1,639.7 250.6,644.4 C248.1,649.2 242.6,654.7 241.0,656.8" fill="none" stroke="#555" stroke-width="0.4" stroke-linejoin="round" stroke-linecap="round"/>
<path d="M207.2,540.2 L212.3,540.2 L212.3,649.2 L207.2,649.2 Z" fill="#D6DADD" stroke="#555" stroke-width="0.6" stroke-linejoin="round"/>
<path d="M191.1,540.2 C191.2,540.9 191.3,543.4 191.8,544.6 C192.2,545.7 193.0,546.7 193.8,547.0 C194.6,547.4 195.9,547.5 196.5,546.6 C197.2,545.8 197.7,542.6 197.9,541.8" fill="none" stroke="#444" stroke-width="1.3" stroke-linejoin="round" stroke-linecap="round"/>
<line x1="197.6" y1="540.7" x2="221.6" y2="540.7" stroke="#444" stroke-width="1.3"/>
<path d="M221.3,540.7 C221.4,541.5 221.4,544.1 221.9,545.3 C222.3,546.4 223.1,547.4 223.9,547.6 C224.7,547.8 226.0,547.9 226.6,546.6 C227.3,545.4 227.8,541.3 228.0,540.2" fill="none" stroke="#444" stroke-width="1.3" stroke-linejoin="round" stroke-linecap="round"/>
<circle cx="217.1" cy="603.1" r="2.7" fill="#444" stroke="#222" stroke-width="0.5"/>
<line x1="212.3" y1="603.1" x2="215.0" y2="603.1" stroke="#444" stroke-width="1.2"/>
<path d="M188.7,550.7 C189.3,545.7 190.7,549.1 191.8,548.7 C192.8,548.2 194.0,548.0 195.2,548.0 C196.3,548.0 197.6,548.2 198.6,548.7 C199.6,549.1 200.8,545.7 201.3,550.7 C201.8,555.7 202.1,573.6 201.6,578.8 C201.2,584.0 199.7,581.1 198.6,581.8 C197.5,582.5 196.3,583.2 195.2,583.2 C194.0,583.2 192.9,582.5 191.8,581.8 C190.6,581.1 189.0,584.0 188.5,578.8 C188.0,573.6 188.2,555.7 188.7,550.7 Z" fill="#E2E8EF" stroke="#555" stroke-width="0.7" stroke-linejoin="round"/>
<path d="M190.4,558.9 L199.7,558.9 L199.7,571.9 L190.4,571.9 Z" fill="#FFFFFF" stroke="#aaa" stroke-width="0.3" stroke-linejoin="round"/>
<path d="M188.7,573.3 C190.9,572.4 199.2,572.4 201.3,573.3 C203.5,574.2 202.1,577.4 201.6,578.8 C201.2,580.2 199.7,581.1 198.6,581.8 C197.5,582.5 196.3,583.2 195.2,583.2 C194.0,583.2 192.9,582.5 191.8,581.8 C190.6,581.1 189.0,580.2 188.5,578.8 C188.0,577.4 186.6,574.2 188.7,573.3 Z" fill="#BFD0E3" stroke="none" stroke-width="0" stroke-linejoin="round"/>
<path d="M195.2,583.2 C195.2,584.3 195.2,588.6 195.2,589.7" fill="none" stroke="#444" stroke-width="0.9" stroke-linejoin="round" stroke-linecap="round"/>
<path d="M193.8,589.4 L196.5,589.4 L196.5,599.3 L193.8,599.3 Z" fill="#888" stroke="#444" stroke-width="0.4" stroke-linejoin="round"/>
<path d="M195.2,599.3 C195.2,601.4 195.4,607.7 195.2,611.6 C195.0,615.5 194.3,619.1 193.8,622.6 C193.4,626.0 192.7,630.5 192.4,632.1" fill="none" stroke="#555" stroke-width="0.9" stroke-linejoin="round" stroke-linecap="round"/>
<path d="M75.2,632.8 L77.5,630.8 L89.2,631.2 L90.5,633.5 L91.9,666.3 L75.2,666.3 Z" fill="#A3A5A2" stroke="#444" stroke-width="0.7" stroke-linejoin="round"/>
<path d="M79.6,635.6 L86.1,635.6 L87.5,666.3 L80.7,666.3 Z" fill="#DBDFD9" stroke="#555" stroke-width="0.5" stroke-linejoin="round"/>
<path d="M75.5,655.0 L91.1,655.0 L93.5,683.1 L82.5,691.0 L93.5,717.5 L87.2,717.5 L79.4,695.7 L75.9,673.8 Z" fill="#A3A5A2" stroke="#444" stroke-width="0.7" stroke-linejoin="round"/>
<path d="M79.7,656.6 L86.4,656.6 L87.5,673.8 L81.7,678.5 L80.3,669.1 Z" fill="#DBDFD9" stroke="#555" stroke-width="0.5" stroke-linejoin="round"/>
<path d="M76.3,655.0 L90.3,716.0" fill="none" stroke="#666" stroke-width="0.7" stroke-linejoin="round" stroke-linecap="round"/>
<path d="M80.9,594.5 C80.9,591.5 82.2,589.6 83.4,588.1 C84.7,586.6 83.9,586.0 88.5,585.6 C93.1,585.3 98.2,585.5 111.0,585.9 C123.9,586.3 155.6,587.0 165.8,588.1 C175.9,589.2 169.6,588.5 171.9,592.5 C174.2,596.4 177.1,605.2 179.4,611.6 C181.8,618.0 184.3,625.3 186.3,630.8 C188.2,636.2 194.5,641.0 191.1,644.4 C187.7,647.9 176.8,649.0 165.8,651.3 C154.7,653.6 135.0,656.2 124.7,658.1 C114.5,660.1 108.4,662.9 104.2,662.9 C100.0,662.9 101.7,663.5 99.4,658.1 C97.1,652.8 93.1,639.4 90.5,630.8 C87.9,622.1 85.3,612.2 83.7,606.1 C82.1,600.1 81.0,597.5 80.9,594.5 Z" fill="#F0E6D7" stroke="#3c3c3a" stroke-width="0.9" stroke-linejoin="round"/>
<path d="M80.9,594.5 C80.9,591.6 82.5,589.4 83.4,588.6 C84.3,587.8 85.0,585.9 86.4,589.7 C87.8,593.6 89.7,603.4 91.9,611.6 C94.1,619.8 97.2,630.7 99.4,639.0 C101.6,647.3 104.9,658.4 104.9,661.5 C104.9,664.7 101.8,663.3 99.4,658.1 C97.0,653.0 93.1,639.4 90.5,630.8 C87.9,622.1 85.3,612.2 83.7,606.1 C82.1,600.1 81.0,597.4 80.9,594.5 Z" fill="#E2D3BF" stroke="none" stroke-width="0" stroke-linejoin="round"/>
<path d="M103.5,630.8 C104.5,627.6 108.8,623.9 111.0,623.9 C113.3,623.9 116.3,627.3 117.2,630.8 C118.1,634.2 117.8,641.0 116.5,644.4 C115.3,647.9 111.6,651.5 109.7,651.3 C107.7,651.1 105.9,646.5 104.9,643.1 C103.9,639.7 102.5,634.0 103.5,630.8 Z" fill="#E6D8C6" stroke="none" stroke-width="0" stroke-linejoin="round"/>
<path d="M107.6,588.1 C107.8,585.8 107.3,586.0 111.0,585.6 C114.8,585.3 126.3,586.2 130.2,585.9 C134.1,585.6 129.3,584.0 134.3,583.8 C139.3,583.7 155.3,584.0 160.3,584.9 C165.3,585.9 163.4,585.7 164.4,589.7 C165.4,593.7 166.3,605.1 166.0,608.9 C165.8,612.6 164.4,611.6 163.0,612.3 C161.6,613.0 163.0,612.7 157.6,613.0 C152.1,613.3 136.6,613.3 130.2,613.9 C123.8,614.6 121.7,617.1 119.3,616.7 C116.8,616.3 117.0,614.5 115.4,611.6 C113.9,608.7 111.2,603.2 109.9,599.3 C108.6,595.4 107.4,590.4 107.6,588.1 Z" fill="#F2F2F0" stroke="#3c3c3a" stroke-width="0.9" stroke-linejoin="round"/>
<path d="M111.0,589.7 C111.7,591.5 113.8,597.0 115.1,600.7 C116.5,604.3 118.6,609.8 119.3,611.6" fill="none" stroke="#c9c9c6" stroke-width="0.7" stroke-linejoin="round" stroke-linecap="round"/>
<path d="M138.4,606.1 C139.3,605.3 144.3,608.2 146.6,608.2 C148.9,608.2 150.9,605.3 152.1,606.1 C153.3,606.9 154.2,610.9 153.7,613.0 C153.3,615.1 151.4,618.7 149.3,618.7 C147.3,618.8 143.0,615.4 141.1,613.3 C139.3,611.2 137.5,607.0 138.4,606.1 Z" fill="#F6E2D6" stroke="#3c3c3a" stroke-width="0.7" stroke-linejoin="round"/>
<path d="M141.1,592.5 C142.4,591.1 144.7,589.2 146.6,588.4 C148.6,587.6 151.7,586.5 152.8,587.7 C153.9,588.8 153.2,592.1 153.2,595.2 C153.1,598.3 153.5,604.0 152.4,606.1 C151.3,608.2 148.5,608.0 146.6,607.8 C144.7,607.6 142.5,606.2 141.1,605.0 C139.8,603.9 138.7,602.1 138.4,600.7 C138.1,599.3 138.6,597.9 139.1,596.6 C139.5,595.2 139.9,593.8 141.1,592.5 Z" fill="#F6E2D6" stroke="#3c3c3a" stroke-width="0.7" stroke-linejoin="round"/>
<path d="M129.5,593.8 C129.6,591.5 130.1,588.9 131.6,587.0 C133.0,585.0 135.9,583.2 138.4,582.2 C140.9,581.2 144.3,580.6 146.6,580.8 C148.9,581.1 151.0,582.4 152.1,583.6 C153.1,584.7 153.8,587.0 152.9,587.8 C152.0,588.7 148.5,587.8 146.6,588.6 C144.7,589.4 142.7,591.0 141.4,592.7 C140.1,594.5 139.2,597.5 138.7,599.3 C138.2,601.1 139.1,602.7 138.4,603.7 C137.7,604.6 135.6,605.5 134.3,605.0 C133.0,604.5 131.7,602.5 130.9,600.7 C130.1,598.8 129.4,596.1 129.5,593.8 Z" fill="#6D6964" stroke="#3c3c3a" stroke-width="0.7" stroke-linejoin="round"/>
<path d="M145.9,600.7 C146.4,599.1 148.1,597.0 149.3,596.2 C150.6,595.4 152.6,594.4 153.5,595.9 C154.3,597.3 155.0,602.9 154.5,604.8 C154.1,606.6 152.3,607.0 151.0,607.1 C149.7,607.2 147.5,606.7 146.6,605.6 C145.8,604.5 145.5,602.2 145.9,600.7 Z" fill="#4A6FB5" stroke="#1f3a75" stroke-width="0.7" stroke-linejoin="round"/>
<path d="M135.9,606.1 L146.1,603.4" fill="none" stroke="#111" stroke-width="1.6" stroke-linejoin="round" stroke-linecap="round"/>
<path d="M115.1,643.4 C114.0,640.3 116.3,634.6 117.9,630.8 C119.5,626.9 121.5,623.2 124.7,620.1 C127.9,616.9 134.1,612.9 137.0,611.9 C140.0,610.9 140.3,612.3 142.5,613.9 C144.7,615.5 148.2,621.5 150.0,621.5 C151.9,621.5 151.3,614.9 153.5,613.9 C155.6,613.0 160.1,614.5 163.0,616.0 C166.0,617.5 168.7,619.9 171.2,622.8 C173.7,625.8 176.4,631.0 178.1,633.8 C179.7,636.5 183.1,638.1 181.1,639.2 C179.0,640.4 171.5,639.7 165.8,640.6 C160.0,641.5 151.6,643.4 146.6,644.7 C141.6,646.1 139.3,648.0 135.7,648.8 C132.0,649.6 128.1,650.3 124.7,649.4 C121.3,648.5 116.3,646.5 115.1,643.4 Z" fill="#DDE5DF" stroke="#3c3c3a" stroke-width="0.9" stroke-linejoin="round"/>
<path d="M137.0,611.9 C138.6,613.1 144.4,617.5 146.6,619.1 C148.8,620.7 149.5,621.1 150.0,621.5" fill="none" stroke="#8a948c" stroke-width="0.7" stroke-linejoin="round" stroke-linecap="round"/>
<path d="M127.5,628.0 C127.9,629.9 129.1,635.7 130.2,639.0 C131.3,642.3 133.6,646.4 134.3,647.9" fill="none" stroke="#9aa49c" stroke-width="0.7" stroke-linejoin="round" stroke-linecap="round"/>
<path d="M183.6,631.0 C182.4,627.6 185.9,626.1 189.0,628.9 C192.1,631.6 200.8,644.0 202.0,647.5 C203.2,650.9 199.2,652.4 196.1,649.6 C193.1,646.9 184.7,634.5 183.6,631.0 Z" fill="#CFCFCB" stroke="#444" stroke-width="0.7" stroke-linejoin="round"/>
<path d="M186.3,630.8 C188.3,633.7 196.5,645.4 198.6,648.3" fill="none" stroke="#555" stroke-width="0.7" stroke-linejoin="round" stroke-linecap="round"/>
<path d="M80.9,683.5 C80.4,680.9 85.4,678.8 88.8,675.6 C92.1,672.5 96.6,667.5 101.3,664.7 C106.0,661.9 115.0,657.4 116.9,658.9 C118.9,660.4 113.9,666.6 113.0,673.8 C112.1,680.9 113.5,698.2 111.6,701.9 C109.6,705.6 104.6,697.7 101.3,696.0 C98.0,694.2 95.3,693.4 91.9,691.3 C88.5,689.2 81.5,686.1 80.9,683.5 Z" fill="#E4E4E2" stroke="#3c3c3a" stroke-width="0.8" stroke-linejoin="round"/>
<path d="M95.0,678.5 C95.4,679.8 97.2,683.7 97.4,686.3 C97.5,688.9 96.1,692.8 95.8,694.1" fill="none" stroke="#c2c2c0" stroke-width="0.7" stroke-linejoin="round" stroke-linecap="round"/>
<path d="M84.9,688.6 L90.3,687.1 L163.8,746.5 L159.1,750.7 Z" fill="#8F918E" stroke="#444" stroke-width="0.7" stroke-linejoin="round"/>
<path d="M130.2,722.5 L135.7,720.7 L165.7,745.7 L161.5,748.8 Z" fill="#B5B7B4" stroke="#444" stroke-width="0.6" stroke-linejoin="round"/>
<path d="M87.2,692.5 L93.5,695.7 L95.0,719.1 L89.5,717.5 Z" fill="#B9BBB8" stroke="#444" stroke-width="0.5" stroke-linejoin="round"/>
<path d="M111.0,658.1 C113.0,656.8 122.4,656.9 127.5,655.4 C132.5,653.9 137.0,649.4 141.1,649.2 C145.2,649.1 148.0,653.2 152.1,654.3 C156.2,655.4 162.1,657.2 165.8,655.7 C169.4,654.1 169.4,647.0 174.0,645.1 C178.5,643.3 187.7,643.9 193.1,644.4 C198.6,645.0 201.1,647.1 206.8,648.6 C212.5,650.0 220.5,651.3 227.3,652.9 C234.2,654.6 243.3,656.3 247.9,658.4 C252.4,660.5 258.1,663.9 254.5,665.6 C250.9,667.4 237.6,667.3 226.4,669.1 C215.1,670.8 194.0,671.9 187.3,676.1 C180.5,680.3 186.1,687.7 186.0,694.1 C185.9,700.5 188.1,711.2 186.5,714.4 C184.9,717.6 179.1,712.1 176.3,713.2 C173.6,714.3 171.8,717.9 170.1,721.0 C168.3,724.1 167.8,729.5 165.7,731.6 C163.6,733.7 160.5,733.7 157.6,733.5 C154.6,733.3 151.5,733.0 148.2,730.4 C144.8,727.8 140.4,719.1 137.5,717.9 C134.7,716.7 133.4,722.6 131.3,723.2 C129.2,723.7 126.1,723.3 124.7,721.0 C123.4,718.6 125.2,711.4 123.2,709.1 C121.1,706.8 114.6,708.3 112.5,706.9 C110.4,705.5 111.0,704.1 110.7,700.7 C110.3,697.2 110.2,690.8 110.3,686.3 C110.4,681.8 110.4,677.6 111.3,673.8 C112.2,669.9 115.7,665.7 115.7,663.1 C115.6,660.5 109.1,659.4 111.0,658.1 Z" fill="#A6BDA3" stroke="#4a5f48" stroke-width="0.8" stroke-linejoin="round"/>
<path d="M116.9,664.4 C117.9,661.3 129.9,659.7 135.7,661.3 C141.4,662.8 147.7,669.6 151.3,673.8 C155.0,677.9 155.5,681.6 157.6,686.3 C159.6,691.0 163.8,694.6 163.8,701.9 C163.8,709.2 160.2,725.6 157.6,730.0 C155.0,734.5 150.5,732.4 148.2,728.5 C145.8,724.6 145.3,712.3 143.5,706.6 C141.7,700.9 139.6,698.5 137.2,694.1 C134.9,689.7 132.8,685.0 129.4,680.0 C126.0,675.1 115.9,667.5 116.9,664.4 Z" fill="#8FA98C" stroke="none" stroke-width="0" stroke-linejoin="round"/>
<path d="M177.9,664.4 C180.5,662.8 188.0,661.5 195.1,661.3 C202.1,661.0 217.5,661.5 220.1,662.8 C222.7,664.1 215.9,667.5 210.7,669.1 C205.5,670.6 194.0,671.9 188.8,672.2 C183.6,672.5 181.3,671.9 179.4,670.6 C177.6,669.3 175.3,665.9 177.9,664.4 Z" fill="#8FA98C" stroke="none" stroke-width="0" stroke-linejoin="round"/>
<path d="M171.6,701.9 C174.2,698.8 184.0,699.8 186.5,701.9 C189.0,704.0 187.9,712.6 186.5,714.4 C185.0,716.2 180.5,711.8 177.9,712.9 C175.3,713.9 171.9,722.5 170.8,720.7 C169.8,718.8 169.0,705.0 171.6,701.9 Z" fill="#8FA98C" stroke="none" stroke-width="0" stroke-linejoin="round"/>
<path d="M121.6,661.3 C124.7,663.1 134.4,668.3 140.4,672.2 C146.4,676.1 154.7,682.6 157.6,684.7" fill="none" stroke="#55694f" stroke-width="0.7" stroke-linejoin="round" stroke-linecap="round"/>
<path d="M131.8,675.3 C131.4,678.5 130.6,686.5 129.4,694.1 C128.2,701.6 125.5,716.2 124.7,720.7" fill="none" stroke="#6e876b" stroke-width="0.7" stroke-linejoin="round" stroke-linecap="round"/>
<path d="M138.8,694.1 C139.6,696.7 141.9,703.7 143.5,709.7 C145.0,715.7 147.4,726.7 148.2,730.0" fill="none" stroke="#6e876b" stroke-width="0.7" stroke-linejoin="round" stroke-linecap="round"/>
<path d="M160.7,694.1 C159.6,697.5 156.5,708.4 154.4,714.4 C152.3,720.4 149.2,727.4 148.2,730.0" fill="none" stroke="#6e876b" stroke-width="0.7" stroke-linejoin="round" stroke-linecap="round"/>
<path d="M188.8,665.9 C192.5,665.7 205.0,665.4 210.7,664.4 C216.4,663.3 221.1,660.5 223.2,659.7" fill="none" stroke="#55694f" stroke-width="0.7" stroke-linejoin="round" stroke-linecap="round"/>
<path d="M122.0,651.6 C122.0,650.4 122.4,649.3 124.7,648.8 C127.0,648.3 132.0,649.2 135.7,648.6 C139.3,647.9 143.0,645.6 146.6,644.7 C150.3,643.8 154.5,642.9 157.6,643.1 C160.6,643.3 162.9,644.6 164.7,645.8 C166.4,647.0 167.8,648.8 168.0,650.2 C168.1,651.6 167.3,653.4 165.8,654.3 C164.3,655.2 161.2,655.9 158.9,655.7 C156.6,655.4 155.5,653.0 152.1,652.9 C148.7,652.8 143.0,654.5 138.4,655.0 C133.8,655.5 127.5,656.5 124.7,655.9 C122.0,655.4 122.0,652.7 122.0,651.6 Z" fill="#F6E2D6" stroke="#3c3c3a" stroke-width="0.8" stroke-linejoin="round"/>
<path d="M158.9,644.4 C159.8,645.1 164.2,647.0 164.4,648.6 C164.6,650.1 161.0,653.1 160.3,654.0" fill="none" stroke="#a08a7c" stroke-width="0.6" stroke-linejoin="round" stroke-linecap="round"/>
<path d="M153.2,606.1 C153.9,608.0 155.9,612.5 157.6,617.1 C159.2,621.6 160.7,628.4 163.0,633.5 C165.3,638.6 167.4,644.0 171.2,647.5 C175.1,650.9 180.4,653.4 186.3,654.3 C192.2,655.2 200.0,652.9 206.8,652.9 C213.6,652.9 223.9,654.1 227.3,654.3" fill="none" stroke="#2F4278" stroke-width="2.2" stroke-linejoin="round" stroke-linecap="round"/>
<path d="M153.2,606.1 C153.9,608.0 155.9,612.5 157.6,617.1 C159.2,621.6 160.7,628.4 163.0,633.5 C165.3,638.6 167.4,644.0 171.2,647.5 C175.1,650.9 180.4,653.4 186.3,654.3 C192.2,655.2 200.0,652.9 206.8,652.9 C213.6,652.9 223.9,654.1 227.3,654.3" fill="none" stroke="#5B78B8" stroke-width="0.8" stroke-linejoin="round" stroke-linecap="round"/>
<path d="M165.8,643.1 C167.6,644.4 172.1,649.0 176.7,651.3 C181.3,653.6 187.0,656.1 193.1,656.8 C199.3,657.4 210.2,655.6 213.6,655.4" fill="none" stroke="#2F4278" stroke-width="1.3" stroke-linejoin="round" stroke-linecap="round"/>
<path d="M170.1,722.2 L186.5,714.4 L186.5,742.6 L193.8,754.1 L253.7,739.7 L254.8,733.5 L292.3,720.7 L297.0,706.6 L297.0,701.9 L186.5,701.9 Z" fill="#D6D6D3" stroke="#3c3c3a" stroke-width="0.9" stroke-linejoin="round"/>
<path d="M193.8,754.1 L253.7,739.7 L254.8,733.5 L195.1,748.8 Z" fill="#9C9C99" stroke="#444" stroke-width="0.5" stroke-linejoin="round"/>
<path d="M207.6,728.5 C210.2,726.7 218.0,724.1 226.4,722.2 C234.7,720.4 249.0,718.3 257.6,717.5 C266.2,716.8 277.9,715.7 277.9,717.5 C277.9,719.4 266.2,725.9 257.6,728.5 C249.0,731.1 234.2,732.4 226.4,733.2 C218.5,734.0 213.8,734.0 210.7,733.2 C207.6,732.4 205.0,730.3 207.6,728.5 Z" fill="#E8E8E6" stroke="none" stroke-width="0" stroke-linejoin="round"/>
<path d="M185.2,678.5 L187.3,674.5 L190.7,672.5 L290.1,661.6 L293.9,662.5 L295.8,665.3 L297.3,706.6 L295.1,709.7 L188.8,728.5 L185.7,725.4 Z" fill="#D2D2CF" stroke="#3c3c3a" stroke-width="1.0" stroke-linejoin="round"/>
<path d="M185.2,678.5 L187.3,674.5 L190.7,672.5 L290.1,661.6 L293.9,662.5 L295.8,665.3 L296.1,672.2 L292.0,669.1 L193.5,680.0 L190.4,683.9 L190.7,726.9 L188.8,728.5 L185.7,725.4 Z" fill="#8A8A88" stroke="none" stroke-width="0" stroke-linejoin="round"/>
<path d="M192.9,688.6 L292.0,673.8 L293.0,700.3 L193.8,722.5 Z" fill="#878785" stroke="#444" stroke-width="0.7" stroke-linejoin="round"/>
<path d="M194.8,678.5 L197.0,676.6 L217.0,674.7 L218.5,676.9 L217.0,679.7 L197.0,681.9 Z" fill="#C4C4BF" stroke="#444" stroke-width="0.6" stroke-linejoin="round"/>
<path d="M274.0,669.4 L275.8,667.5 L288.6,665.9 L290.1,668.1 L288.6,670.3 L275.8,671.9 Z" fill="#F2F2EE" stroke="#444" stroke-width="0.6" stroke-linejoin="round"/>
<path d="M168.2,730.0 L177.9,733.2 L178.2,758.5 L170.1,758.5 Z" fill="#C8C8C5" stroke="#444" stroke-width="0.7" stroke-linejoin="round"/>
<path d="M267.3,728.5 L273.6,727.2 L273.9,741.3 L267.9,741.9 Z" fill="#C8C8C5" stroke="#444" stroke-width="0.7" stroke-linejoin="round"/>
<path d="M93.5,712.9 L103.6,716.8 L103.6,721.4 L95.0,720.7 Z" fill="#BDBDB9" stroke="#444" stroke-width="0.5" stroke-linejoin="round"/>
<ellipse cx="168.5" cy="769.9" rx="8.6" ry="9.7" fill="#A2A29F" stroke="#333" stroke-width="0.8"/>
<ellipse cx="168.0" cy="770.4" rx="4.7" ry="5.6" fill="#5F5F5D"/>
<ellipse cx="168.0" cy="770.4" rx="1.9" ry="2.3" fill="#B5B5B2"/>
<ellipse cx="267.0" cy="746.9" rx="6.3" ry="6.9" fill="#A2A29F" stroke="#333" stroke-width="0.8"/>
<ellipse cx="266.5" cy="747.4" rx="3.4" ry="4.0" fill="#5F5F5D"/>
<ellipse cx="266.5" cy="747.4" rx="1.4" ry="1.7" fill="#B5B5B2"/>
<ellipse cx="102.1" cy="722.5" rx="5.2" ry="5.6" fill="#A2A29F" stroke="#333" stroke-width="0.8"/>
<ellipse cx="101.6" cy="723.0" rx="2.8" ry="3.3" fill="#5F5F5D"/>
<ellipse cx="101.6" cy="723.0" rx="1.1" ry="1.4" fill="#B5B5B2"/>
</g>
<g id="sil" filter="url(#soft2)">
<path d="M273.9,979.3 C273.8,974.3 273.9,957.6 273.5,949.7 C273.2,941.7 273.0,936.5 271.7,931.6 C270.5,926.7 268.6,923.1 266.0,920.1 C263.4,917.1 260.5,915.5 256.1,913.5 C251.7,911.6 245.4,910.4 239.7,908.6 C233.9,906.8 225.6,904.8 221.6,902.9 C217.6,900.9 216.8,899.7 215.9,897.1 C214.9,894.5 215.6,890.8 215.9,887.2 C216.1,883.7 216.7,879.3 217.5,875.7 C218.3,872.2 219.9,869.4 220.8,865.9 C221.7,862.3 222.8,858.2 222.9,854.4 C223.1,850.5 222.9,846.4 221.6,842.9 C220.3,839.3 217.8,835.7 215.0,833.0 C212.3,830.3 209.0,827.9 205.2,826.4 C201.3,825.0 196.0,824.5 192.0,824.5 C188.1,824.4 184.6,825.0 181.3,826.1 C178.1,827.3 174.9,829.1 172.3,831.4 C169.7,833.6 167.4,836.6 165.7,839.6 C164.1,842.6 163.2,846.2 162.4,849.4 C161.7,852.7 161.5,856.6 161.1,859.3 C160.8,862.0 161.0,864.0 160.5,865.9 C159.9,867.8 158.5,869.3 157.8,870.8 C157.2,872.3 156.4,873.7 156.7,874.9 C157.0,876.1 158.8,877.0 159.5,878.2 C160.2,879.4 160.2,880.8 160.8,882.3 C161.4,883.8 162.6,885.5 163.3,887.2 C164.0,889.0 164.0,891.6 164.9,893.0 C165.9,894.4 167.2,895.4 169.0,895.8 C170.9,896.2 174.8,894.8 175.9,895.5 C177.1,896.1 176.5,898.2 175.9,899.6 C175.3,900.9 175.1,902.2 172.3,903.7 C169.5,905.2 164.1,906.8 159.2,908.6 C154.2,910.4 147.4,912.2 142.7,914.4 C138.1,916.5 134.2,918.9 131.2,921.8 C128.2,924.6 126.1,927.0 124.7,931.6 C123.2,936.3 123.0,941.7 122.5,949.7 C122.0,957.6 121.8,974.3 121.7,979.3 Z" fill="#CBCCCA"/>
<path d="M164.4,847.7 C164.2,845.8 164.6,843.5 165.6,841.5 C166.5,839.4 168.2,837.1 170.2,835.2 C172.3,833.4 175.2,831.8 178.0,830.6 C180.9,829.3 184.3,828.2 187.4,827.8 C190.5,827.5 193.6,827.7 196.7,828.2 C199.8,828.8 203.2,829.7 206.1,831.0 C208.9,832.2 211.8,833.9 213.8,835.6 C215.9,837.4 217.7,839.7 218.5,841.5 C219.4,843.2 219.2,844.8 218.9,846.1 C218.6,847.4 218.1,848.9 217.0,849.3 C215.9,849.6 213.8,848.1 212.3,848.5 C210.7,848.9 208.9,850.2 207.6,851.6 C206.3,853.0 206.1,855.8 204.5,857.0 C202.9,858.3 200.3,858.4 198.3,859.0 C196.2,859.6 194.1,860.5 192.0,860.5 C190.0,860.6 187.6,859.9 185.8,859.4 C184.0,858.9 183.2,858.3 181.1,857.4 C179.1,856.6 175.8,855.0 173.4,854.3 C171.0,853.6 168.2,854.3 166.7,853.1 C165.2,852.0 164.6,849.6 164.4,847.7 Z" fill="#D65C64" stroke="#6a3034" stroke-width="0.6"/>
<path d="M164.8,847.7 C164.7,845.8 165.1,843.8 166.0,841.9 C166.9,839.9 168.8,836.6 170.2,836.0 C171.7,835.4 174.0,836.9 174.9,838.4 C175.8,839.8 176.0,842.6 175.7,844.6 C175.4,846.5 173.9,848.5 173.4,850.0 C172.8,851.6 173.7,853.4 172.6,853.9 C171.5,854.4 168.0,854.0 166.7,853.0 C165.4,852.0 164.9,849.6 164.8,847.7 Z" fill="#EBB9AC"/>
<path d="M207.6,833.7 C208.9,833.6 212.1,834.7 213.8,836.0 C215.6,837.3 217.6,839.8 218.4,841.5 C219.1,843.2 218.9,845.0 218.5,846.1 C218.1,847.3 217.3,848.5 216.2,848.5 C215.0,848.5 212.9,847.3 211.5,846.1 C210.1,845.0 208.5,843.0 207.6,841.5 C206.7,839.9 206.1,838.1 206.1,836.8 C206.1,835.5 206.3,833.8 207.6,833.7 Z" fill="#E9B7A8"/>
<path d="M189.1,846.1 C188.9,846.2 188.4,846.4 187.9,846.5 C187.3,846.7 186.3,846.8 186.0,846.9" fill="none" stroke="#E58A8A" stroke-width="1.1" stroke-linecap="round"/>
<path d="M190.4,847.8 C190.4,848.0 190.4,848.3 190.8,848.6 C191.3,848.9 192.6,849.4 193.0,849.6" fill="none" stroke="#B22F3A" stroke-width="1.1" stroke-linecap="round"/>
<path d="M199.9,847.9 C200.0,847.8 200.4,847.4 200.7,847.6 C201.0,847.7 201.5,848.6 201.7,848.8" fill="none" stroke="#E58A8A" stroke-width="0.7" stroke-linecap="round"/>
<path d="M197.0,853.1 C197.0,853.2 197.0,853.4 197.3,853.9 C197.6,854.4 198.6,855.7 198.8,856.1" fill="none" stroke="#C23A45" stroke-width="0.9" stroke-linecap="round"/>
<path d="M200.0,841.2 C199.8,841.5 199.2,841.9 199.0,842.6 C198.9,843.3 199.2,845.1 199.2,845.6" fill="none" stroke="#E58A8A" stroke-width="1.1" stroke-linecap="round"/>
<path d="M206.0,841.0 C205.9,841.2 206.1,841.9 205.6,842.1 C205.2,842.3 203.7,842.4 203.3,842.4" fill="none" stroke="#B22F3A" stroke-width="0.7" stroke-linecap="round"/>
<path d="M186.1,830.6 C186.0,830.7 185.4,830.8 185.1,831.4 C184.9,832.0 184.6,833.8 184.5,834.3" fill="none" stroke="#C23A45" stroke-width="0.7" stroke-linecap="round"/>
<path d="M171.1,836.1 C171.3,836.1 172.1,835.8 172.4,835.9 C172.7,836.0 173.0,836.6 173.1,836.8" fill="none" stroke="#F3CFC4" stroke-width="0.9" stroke-linecap="round"/>
<path d="M206.1,841.6 C206.3,841.7 207.1,841.5 207.3,842.0 C207.5,842.4 207.2,844.0 207.2,844.4" fill="none" stroke="#A82833" stroke-width="0.9" stroke-linecap="round"/>
<path d="M197.1,846.7 C197.3,846.5 197.6,846.0 198.0,846.0 C198.4,846.1 199.2,846.8 199.5,847.0" fill="none" stroke="#A82833" stroke-width="0.9" stroke-linecap="round"/>
<path d="M209.4,840.6 C209.6,840.5 210.2,839.9 210.6,840.0 C211.0,840.1 211.6,841.0 211.8,841.1" fill="none" stroke="#D9837F" stroke-width="0.9" stroke-linecap="round"/>
<path d="M198.2,832.3 C198.0,832.5 197.4,833.1 197.2,833.7 C197.0,834.4 197.1,835.9 197.1,836.4" fill="none" stroke="#E58A8A" stroke-width="0.9" stroke-linecap="round"/>
<path d="M178.2,834.3 C177.9,834.6 177.0,835.8 176.5,836.3 C176.0,836.9 175.3,837.4 175.1,837.6" fill="none" stroke="#EFA9A3" stroke-width="1.1" stroke-linecap="round"/>
<path d="M170.7,844.6 C170.8,844.8 171.1,845.1 171.6,845.6 C172.0,846.1 173.1,847.1 173.4,847.4" fill="none" stroke="#B84049" stroke-width="0.9" stroke-linecap="round"/>
<path d="M192.7,857.9 C192.6,857.9 192.2,858.2 191.8,858.2 C191.4,858.2 190.7,858.1 190.4,858.1" fill="none" stroke="#A82833" stroke-width="1.1" stroke-linecap="round"/>
<path d="M168.5,841.4 C168.5,841.5 168.5,841.8 168.8,842.0 C169.0,842.2 169.8,842.7 170.0,842.8" fill="none" stroke="#F3CFC4" stroke-width="0.7" stroke-linecap="round"/>
<path d="M184.2,856.7 C184.0,856.7 183.7,856.9 183.1,856.9 C182.4,856.9 180.9,856.9 180.5,856.9" fill="none" stroke="#E58A8A" stroke-width="1.1" stroke-linecap="round"/>
<path d="M213.7,850.6 C213.6,850.6 213.4,850.6 213.1,850.7 C212.8,850.7 211.9,850.8 211.7,850.8" fill="none" stroke="#C23A45" stroke-width="0.9" stroke-linecap="round"/>
<path d="M189.1,840.0 C189.5,839.9 190.5,839.5 191.3,839.6 C192.0,839.8 193.2,840.4 193.6,840.6" fill="none" stroke="#C23A45" stroke-width="0.9" stroke-linecap="round"/>
<path d="M169.4,843.3 C169.7,843.3 171.0,842.9 171.7,843.0 C172.4,843.2 173.2,844.2 173.5,844.4" fill="none" stroke="#B84049" stroke-width="1.1" stroke-linecap="round"/>
<path d="M171.0,836.4 C171.2,836.7 171.9,837.4 172.0,837.8 C172.1,838.3 171.8,839.0 171.7,839.2" fill="none" stroke="#B84049" stroke-width="0.9" stroke-linecap="round"/>
<path d="M189.6,845.5 C189.6,845.6 189.3,845.7 189.3,846.2 C189.2,846.8 189.4,848.4 189.4,848.9" fill="none" stroke="#B22F3A" stroke-width="0.7" stroke-linecap="round"/>
<path d="M206.7,849.3 C206.7,849.5 206.5,849.8 206.6,850.5 C206.6,851.2 206.8,853.2 206.9,853.7" fill="none" stroke="#A82833" stroke-width="0.7" stroke-linecap="round"/>
<path d="M192.6,852.3 C192.8,852.5 193.1,852.8 193.5,853.5 C193.8,854.1 194.6,855.8 194.8,856.2" fill="none" stroke="#EFA9A3" stroke-width="1.1" stroke-linecap="round"/>
<path d="M178.3,848.5 C178.0,848.6 177.0,848.6 176.5,849.0 C175.9,849.3 175.2,850.5 175.0,850.8" fill="none" stroke="#E58A8A" stroke-width="1.1" stroke-linecap="round"/>
<path d="M172.0,839.4 C171.8,839.6 170.9,840.3 170.6,840.4 C170.2,840.6 170.2,840.2 170.1,840.1" fill="none" stroke="#F3CFC4" stroke-width="0.7" stroke-linecap="round"/>
<path d="M189.0,837.0 C189.2,837.1 189.8,837.5 190.2,837.8 C190.6,838.1 191.2,838.7 191.4,838.9" fill="none" stroke="#C23A45" stroke-width="1.1" stroke-linecap="round"/>
<path d="M189.1,830.6 C189.3,830.7 189.4,831.0 190.1,831.1 C190.8,831.2 192.9,831.1 193.4,831.0" fill="none" stroke="#A82833" stroke-width="0.9" stroke-linecap="round"/>
<path d="M181.4,853.5 C181.5,853.4 181.9,852.8 182.2,852.8 C182.6,852.8 183.5,853.5 183.7,853.6" fill="none" stroke="#C23A45" stroke-width="0.7" stroke-linecap="round"/>
<path d="M170.6,845.3 C170.5,845.4 169.7,845.5 169.5,845.9 C169.3,846.4 169.4,847.7 169.4,848.0" fill="none" stroke="#B84049" stroke-width="0.9" stroke-linecap="round"/>
<path d="M190.2,851.0 C190.3,851.2 190.4,851.7 190.8,851.9 C191.2,852.2 192.2,852.4 192.4,852.5" fill="none" stroke="#A82833" stroke-width="1.1" stroke-linecap="round"/>
<path d="M197.8,852.4 C198.0,852.5 198.7,852.6 199.0,853.3 C199.2,853.9 199.1,855.8 199.1,856.3" fill="none" stroke="#EFA9A3" stroke-width="0.7" stroke-linecap="round"/>
<path d="M189.0,834.5 C188.9,834.6 188.6,834.9 188.3,835.0 C188.0,835.1 187.3,835.2 187.2,835.2" fill="none" stroke="#A82833" stroke-width="0.9" stroke-linecap="round"/>
<path d="M189.7,849.0 C190.0,849.2 190.9,849.8 191.5,850.2 C192.0,850.6 192.6,851.2 192.8,851.4" fill="none" stroke="#B22F3A" stroke-width="0.7" stroke-linecap="round"/>
<path d="M177.8,840.7 C178.1,840.9 179.2,841.5 179.6,841.7 C180.1,841.8 180.3,841.5 180.5,841.5" fill="none" stroke="#C23A45" stroke-width="1.1" stroke-linecap="round"/>
<path d="M210.8,839.4 C211.0,839.5 211.6,840.0 212.1,840.1 C212.6,840.2 213.5,840.2 213.8,840.2" fill="none" stroke="#B84049" stroke-width="0.7" stroke-linecap="round"/>
<path d="M176.5,855.9 C176.6,856.1 176.7,856.7 176.8,857.0 C176.8,857.3 176.9,857.8 177.0,857.9" fill="none" stroke="#E58A8A" stroke-width="0.9" stroke-linecap="round"/>
<path d="M172.8,844.7 C172.6,845.1 172.4,846.2 172.0,846.7 C171.5,847.2 170.4,847.7 170.0,848.0" fill="none" stroke="#B84049" stroke-width="1.1" stroke-linecap="round"/>
<path d="M176.7,845.0 C176.9,845.3 177.5,845.8 177.9,846.3 C178.3,846.8 178.9,847.9 179.1,848.2" fill="none" stroke="#A82833" stroke-width="0.9" stroke-linecap="round"/>
<path d="M181.5,840.4 C181.2,840.6 180.2,841.4 179.5,841.8 C178.9,842.1 178.0,842.3 177.6,842.5" fill="none" stroke="#A82833" stroke-width="1.1" stroke-linecap="round"/>
<path d="M179.5,844.1 C179.4,844.2 178.8,844.4 178.9,844.8 C179.0,845.2 179.9,846.0 180.1,846.3" fill="none" stroke="#A82833" stroke-width="0.7" stroke-linecap="round"/>
<path d="M192.5,841.0 C192.3,841.2 191.8,841.8 191.4,842.1 C190.9,842.5 190.0,842.9 189.7,843.1" fill="none" stroke="#B22F3A" stroke-width="1.1" stroke-linecap="round"/>
<path d="M189.4,857.6 C189.2,857.7 188.5,858.0 188.1,858.3 C187.7,858.6 187.2,859.2 187.0,859.4" fill="none" stroke="#C23A45" stroke-width="0.9" stroke-linecap="round"/>
<path d="M214.2,845.0 C214.3,845.0 214.2,844.9 214.6,845.0 C215.1,845.2 216.7,845.9 217.1,846.0" fill="none" stroke="#C9505A" stroke-width="0.7" stroke-linecap="round"/>
<path d="M175.2,835.5 C175.1,835.7 174.6,836.2 174.4,836.6 C174.1,837.0 173.8,837.6 173.7,837.8" fill="none" stroke="#C9505A" stroke-width="0.9" stroke-linecap="round"/>
<path d="M204.1,832.2 C204.0,832.3 203.6,832.8 203.6,833.3 C203.5,833.7 203.9,834.5 204.0,834.8" fill="none" stroke="#EFA9A3" stroke-width="0.7" stroke-linecap="round"/>
<path d="M185.0,841.4 C184.9,841.6 184.5,842.2 184.4,842.6 C184.4,843.0 184.7,843.6 184.8,843.8" fill="none" stroke="#E58A8A" stroke-width="1.1" stroke-linecap="round"/>
<path d="M176.4,845.6 C176.5,845.7 176.9,846.3 176.8,846.7 C176.7,847.0 176.0,847.6 175.8,847.8" fill="none" stroke="#C23A45" stroke-width="0.7" stroke-linecap="round"/>
<path d="M181.8,838.3 C181.7,838.4 182.0,839.0 181.6,839.1 C181.1,839.2 179.7,838.9 179.3,838.9" fill="none" stroke="#E58A8A" stroke-width="0.7" stroke-linecap="round"/>
<path d="M185.6,842.1 C185.5,842.1 185.2,841.8 184.6,841.9 C184.0,842.0 182.7,842.6 182.3,842.7" fill="none" stroke="#B22F3A" stroke-width="0.7" stroke-linecap="round"/>
<path d="M175.6,850.0 C175.2,850.1 174.0,850.3 173.2,850.5 C172.5,850.7 171.5,851.2 171.2,851.3" fill="none" stroke="#D9837F" stroke-width="1.1" stroke-linecap="round"/>
<path d="M207.9,843.6 C208.2,843.7 209.0,844.3 209.7,844.4 C210.4,844.4 211.6,844.0 211.9,843.9" fill="none" stroke="#B84049" stroke-width="0.7" stroke-linecap="round"/>
<path d="M174.1,833.3 C174.2,833.4 174.7,833.4 175.1,833.9 C175.5,834.4 176.2,835.8 176.4,836.2" fill="none" stroke="#B84049" stroke-width="0.7" stroke-linecap="round"/>
<path d="M205.9,838.7 C205.9,838.9 205.8,839.6 205.9,840.2 C206.0,840.7 206.2,841.7 206.2,842.0" fill="none" stroke="#B22F3A" stroke-width="1.1" stroke-linecap="round"/>
<path d="M202.5,855.2 C202.7,855.3 203.4,855.4 203.9,855.7 C204.3,856.0 204.9,856.7 205.1,856.9" fill="none" stroke="#E58A8A" stroke-width="1.1" stroke-linecap="round"/>
<path d="M173.7,844.6 C174.0,844.7 175.2,845.0 175.9,845.0 C176.6,845.0 177.7,844.8 178.0,844.8" fill="none" stroke="#B84049" stroke-width="1.1" stroke-linecap="round"/>
<path d="M197.0,844.3 C196.7,844.5 195.7,845.0 195.0,845.1 C194.3,845.1 193.2,844.6 192.9,844.6" fill="none" stroke="#E58A8A" stroke-width="0.9" stroke-linecap="round"/>
<path d="M171.9,838.8 C171.9,838.9 171.8,839.0 171.7,839.4 C171.6,839.9 171.6,841.3 171.6,841.7" fill="none" stroke="#F3CFC4" stroke-width="1.1" stroke-linecap="round"/>
<path d="M174.7,853.7 C174.9,853.9 175.6,854.9 175.8,855.2 C176.1,855.5 176.0,855.4 176.0,855.5" fill="none" stroke="#C9505A" stroke-width="0.7" stroke-linecap="round"/>
<path d="M180.8,835.1 C180.8,835.3 180.4,835.7 180.5,836.1 C180.6,836.5 181.4,837.2 181.6,837.5" fill="none" stroke="#EFA9A3" stroke-width="1.1" stroke-linecap="round"/>
<path d="M176.2,832.1 C176.2,832.2 175.9,832.2 176.1,832.8 C176.3,833.3 177.2,834.9 177.4,835.4" fill="none" stroke="#E58A8A" stroke-width="0.9" stroke-linecap="round"/>
<path d="M188.6,844.3 C188.3,844.5 187.2,844.6 186.8,845.0 C186.3,845.4 186.1,846.6 185.9,846.9" fill="none" stroke="#C23A45" stroke-width="0.9" stroke-linecap="round"/>
<path d="M194.3,844.4 C194.2,844.5 194.3,844.7 193.7,844.8 C193.1,844.9 191.3,844.8 190.9,844.8" fill="none" stroke="#B22F3A" stroke-width="1.1" stroke-linecap="round"/>
<path d="M196.9,852.5 C197.1,852.5 197.4,852.6 198.1,852.7 C198.9,852.8 200.8,853.0 201.3,853.1" fill="none" stroke="#E58A8A" stroke-width="0.9" stroke-linecap="round"/>
<path d="M193.9,847.3 C193.9,847.5 193.7,847.9 193.9,848.4 C194.0,848.9 194.5,850.1 194.6,850.5" fill="none" stroke="#C23A45" stroke-width="0.9" stroke-linecap="round"/>
<path d="M193.3,843.7 C193.5,843.9 194.2,844.8 194.7,845.4 C195.2,845.9 196.0,846.7 196.3,847.0" fill="none" stroke="#B22F3A" stroke-width="0.7" stroke-linecap="round"/>
<path d="M206.3,846.9 C206.3,847.0 206.3,846.9 206.1,847.4 C205.9,847.8 205.2,849.3 205.0,849.7" fill="none" stroke="#C23A45" stroke-width="1.1" stroke-linecap="round"/>
<path d="M186.2,846.8 C186.1,846.9 186.2,846.9 185.9,847.2 C185.6,847.6 184.6,848.7 184.3,849.0" fill="none" stroke="#EFA9A3" stroke-width="0.9" stroke-linecap="round"/>
<path d="M192.9,858.2 C192.9,858.4 193.2,859.2 192.8,859.6 C192.5,860.0 191.2,860.5 190.8,860.6" fill="none" stroke="#A82833" stroke-width="1.1" stroke-linecap="round"/>
<path d="M171.0,848.2 C170.9,848.3 170.4,848.8 170.4,849.2 C170.5,849.6 171.2,850.4 171.3,850.6" fill="none" stroke="#C9505A" stroke-width="0.9" stroke-linecap="round"/>
<path d="M188.6,849.6 C188.6,849.7 188.8,850.0 188.9,850.5 C188.9,850.9 188.9,851.9 189.0,852.2" fill="none" stroke="#A82833" stroke-width="0.7" stroke-linecap="round"/>
<path d="M177.6,831.9 C177.4,831.9 176.9,832.0 176.3,832.2 C175.6,832.4 174.2,833.0 173.7,833.2" fill="none" stroke="#C23A45" stroke-width="1.1" stroke-linecap="round"/>
<path d="M201.6,846.3 C201.6,846.4 201.7,846.6 201.6,847.2 C201.4,847.8 200.7,849.4 200.5,849.8" fill="none" stroke="#E58A8A" stroke-width="1.1" stroke-linecap="round"/>
<path d="M187.6,848.1 C187.7,848.1 187.7,847.7 188.3,847.9 C188.8,848.1 190.4,849.0 190.9,849.2" fill="none" stroke="#E58A8A" stroke-width="1.1" stroke-linecap="round"/>
<path d="M190.8,839.5 C190.8,839.8 190.6,840.8 190.9,841.3 C191.1,841.7 192.1,842.2 192.4,842.4" fill="none" stroke="#B22F3A" stroke-width="0.9" stroke-linecap="round"/>
<path d="M208.3,848.1 C208.1,848.2 207.7,848.2 207.4,848.4 C207.1,848.7 206.5,849.6 206.4,849.8" fill="none" stroke="#F3CFC4" stroke-width="0.9" stroke-linecap="round"/>
<path d="M196.8,837.5 C196.6,837.8 195.6,838.4 195.1,838.9 C194.6,839.4 194.0,840.2 193.8,840.4" fill="none" stroke="#A82833" stroke-width="0.7" stroke-linecap="round"/>
<path d="M189.6,838.6 C189.6,838.9 189.6,839.8 189.5,840.3 C189.5,840.8 189.2,841.4 189.2,841.7" fill="none" stroke="#EFA9A3" stroke-width="0.9" stroke-linecap="round"/>
<path d="M181.5,857.3 C181.4,857.6 181.2,858.6 181.0,859.2 C180.7,859.8 180.3,860.6 180.2,860.9" fill="none" stroke="#C23A45" stroke-width="0.9" stroke-linecap="round"/>
<path d="M212.2,835.2 C212.2,835.3 212.5,835.5 212.3,835.9 C212.0,836.4 211.1,837.4 210.8,837.7" fill="none" stroke="#B84049" stroke-width="1.1" stroke-linecap="round"/>
<path d="M196.7,857.0 C196.7,857.3 196.4,858.3 196.2,858.7 C195.9,859.1 195.4,859.2 195.2,859.3" fill="none" stroke="#EFA9A3" stroke-width="0.9" stroke-linecap="round"/>
<path d="M204.0,844.7 C204.1,844.8 204.2,845.2 204.9,845.4 C205.6,845.6 207.5,845.7 208.1,845.8" fill="none" stroke="#A82833" stroke-width="0.9" stroke-linecap="round"/>
<path d="M184.6,840.7 C184.7,840.7 184.8,840.4 185.3,840.7 C185.9,841.0 187.3,842.1 187.7,842.4" fill="none" stroke="#EFA9A3" stroke-width="0.9" stroke-linecap="round"/>
<path d="M208.4,835.3 C208.5,835.2 208.6,834.7 209.0,834.7 C209.4,834.8 210.5,835.6 210.7,835.7" fill="none" stroke="#B84049" stroke-width="0.7" stroke-linecap="round"/>
<path d="M196.1,838.0 C196.0,838.1 195.6,838.0 195.5,838.5 C195.5,839.0 195.6,840.4 195.6,840.8" fill="none" stroke="#C23A45" stroke-width="0.7" stroke-linecap="round"/>
<path d="M187.5,851.0 C187.4,851.3 187.2,851.9 187.3,852.7 C187.3,853.4 187.6,854.9 187.6,855.4" fill="none" stroke="#C23A45" stroke-width="0.9" stroke-linecap="round"/>
<path d="M208.2,838.9 C208.4,838.8 209.3,838.5 209.8,838.7 C210.3,839.0 210.9,840.0 211.1,840.2" fill="none" stroke="#C9505A" stroke-width="0.9" stroke-linecap="round"/>
<path d="M185.1,831.1 C185.0,831.3 184.4,831.7 184.5,832.2 C184.6,832.8 185.3,834.1 185.5,834.5" fill="none" stroke="#B22F3A" stroke-width="0.7" stroke-linecap="round"/>
<path d="M187.4,841.7 C187.8,841.7 189.0,841.9 189.6,842.2 C190.2,842.5 190.8,843.2 191.0,843.4" fill="none" stroke="#E58A8A" stroke-width="0.9" stroke-linecap="round"/>
<path d="M175.8,841.8 C175.8,842.0 175.7,842.4 176.2,843.0 C176.7,843.6 178.2,845.0 178.6,845.4" fill="none" stroke="#B22F3A" stroke-width="0.9" stroke-linecap="round"/>
<path d="M199.6,853.0 C199.7,853.1 200.0,853.4 200.3,853.6 C200.6,853.8 201.2,854.0 201.4,854.1" fill="none" stroke="#B22F3A" stroke-width="0.9" stroke-linecap="round"/>
<path d="M176.5,835.7 C176.2,835.9 175.5,835.9 175.1,836.4 C174.8,836.8 174.4,838.2 174.2,838.5" fill="none" stroke="#C23A45" stroke-width="0.9" stroke-linecap="round"/>
<path d="M174.1,852.4 C174.3,852.6 175.0,853.0 175.3,853.5 C175.6,854.0 175.9,855.0 176.0,855.3" fill="none" stroke="#D9837F" stroke-width="0.9" stroke-linecap="round"/>
<path d="M183.2,845.7 C182.9,845.6 182.0,845.1 181.4,845.2 C180.9,845.3 180.2,846.0 179.9,846.1" fill="none" stroke="#E58A8A" stroke-width="0.9" stroke-linecap="round"/>
<path d="M213.4,842.6 C213.7,842.7 214.5,843.0 214.9,843.3 C215.3,843.7 215.5,844.5 215.6,844.8" fill="none" stroke="#D9837F" stroke-width="0.7" stroke-linecap="round"/>
<path d="M203.7,857.0 C203.8,855.7 204.8,853.0 206.1,851.6 C207.4,850.2 209.8,848.8 211.5,848.5 C213.2,848.2 215.2,848.6 216.2,849.6 C217.1,850.7 217.7,853.1 217.3,854.7 C217.0,856.3 215.2,858.3 213.8,859.4 C212.5,860.4 210.6,860.9 209.2,860.9 C207.7,860.9 206.2,860.0 205.3,859.4 C204.4,858.7 203.6,858.3 203.7,857.0 Z" fill="#5E3A40"/>
<path d="M207.6,852.4 C208.3,852.0 210.3,850.2 211.5,850.0 C212.7,849.9 214.1,851.3 214.6,851.6" fill="none" stroke="#8A5560" stroke-width="0.8"/>
<path d="M192.7,860.2 C192.8,861.5 192.9,865.3 193.6,867.9 C194.3,870.5 196.1,873.1 196.7,875.7 C197.4,878.3 197.5,880.3 197.5,883.5 C197.5,886.8 196.8,893.2 196.7,895.2" fill="none" stroke="#D0404C" stroke-width="1.6" stroke-linecap="round"/>
</g>
<!-- starburst -->
<polygon id="star" filter="url(#blur1)" fill="#E8E6DB" stroke="#E8E6DB" stroke-width="3" stroke-linejoin="round" points="592.5,243.5 616.3,265.3 648.3,261.6 654.8,293.2 682.9,309.1 669.5,338.5 682.9,367.9 654.8,383.8 648.3,415.4 616.3,411.7 592.5,433.5 568.7,411.7 536.7,415.4 530.2,383.8 502.1,367.9 515.5,338.5 502.1,309.1 530.2,293.2 536.7,261.6 568.7,265.3"/>
<g font-weight="bold" fill="#0b0b0b" stroke="#0b0b0b" stroke-width="0.7">
<text x="507.8" y="331.7" font-size="28.5" textLength="165" lengthAdjust="spacingAndGlyphs">Hemorrhage</text>
<text x="547.8" y="371.8" font-size="28.5" textLength="84.5" lengthAdjust="spacingAndGlyphs">stroke</text>
</g>
<!-- arrow to brain -->
<path d="M490.7,366.5 L436.5,386.5 L428,370 L417.7,401.4 L449,414 L442.7,398.5 Z" fill="#0a0a0a"/>
<!-- dotted arrow -->
<path d="M200,425.6 L149.6,425.6 L96,327" fill="none" stroke="#111" stroke-width="2.4" stroke-dasharray="3 3.5" stroke-linejoin="round"/>
<path d="M91.6,321 L98,323 L93,327.6 Z" fill="#111"/>
<g fill="#0b0b0b" stroke="#0b0b0b" stroke-width="1.05" stroke-linejoin="round">
<text x="358" y="631.6" font-size="27.5" textLength="259.5" lengthAdjust="spacingAndGlyphs">First ICU&#160;&#160;admission</text>
<text x="358" y="671.7" font-size="27.5" textLength="152" lengthAdjust="spacingAndGlyphs">(N = 65366)</text>
<text x="356.6" y="905.3" font-size="27.5" textLength="200" lengthAdjust="spacingAndGlyphs">Analysis cohort</text>
<text x="363.6" y="945.4" font-size="27.5" textLength="118" lengthAdjust="spacingAndGlyphs">(N = 413)</text>
<text x="30" y="1081.7" font-size="25" textLength="711.5" lengthAdjust="spacingAndGlyphs">TyG-BMI = Ln [glucose (mg/dL) × triglycerides (mg/dL)/2]× BMI</text>
</g>
<!-- big curved arrow -->
<path d="M580.3,673.8 C605,690 622,715 628,742 C633,772 626,805 604.7,832.7 L623.2,848.9 L570.8,850.8 L564.4,800 L583.8,815.2 C604,795 616,770 615,742 C613,715 600,693 580.3,673.8 Z" fill="#060606"/>
<g id="surv" filter="url(#soft)">
<path d="M857.7,253.6 V368.0 H1145.3" fill="none" stroke="#3a3a3a" stroke-width="0.7"/>
<line x1="856.1" y1="259.0" x2="857.7" y2="259.0" stroke="#3a3a3a" stroke-width="0.5"/>
<text x="854.7" y="261.2" font-size="6.8" text-anchor="end" fill="#000000">1.00</text>
<line x1="856.1" y1="285.2" x2="857.7" y2="285.2" stroke="#3a3a3a" stroke-width="0.5"/>
<text x="854.7" y="287.4" font-size="6.8" text-anchor="end" fill="#000000">0.75</text>
<line x1="856.1" y1="311.2" x2="857.7" y2="311.2" stroke="#3a3a3a" stroke-width="0.5"/>
<text x="854.7" y="313.4" font-size="6.8" text-anchor="end" fill="#000000">0.50</text>
<line x1="856.1" y1="337.2" x2="857.7" y2="337.2" stroke="#3a3a3a" stroke-width="0.5"/>
<text x="854.7" y="339.4" font-size="6.8" text-anchor="end" fill="#000000">0.25</text>
<line x1="856.1" y1="363.5" x2="857.7" y2="363.5" stroke="#3a3a3a" stroke-width="0.5"/>
<text x="854.7" y="365.7" font-size="6.8" text-anchor="end" fill="#000000">0.00</text>
<line x1="871.0" y1="368.0" x2="871.0" y2="369.6" stroke="#3a3a3a" stroke-width="0.5"/>
<text x="871.0" y="376.7" font-size="6.8" text-anchor="middle" fill="#000000">0</text>
<line x1="914.6" y1="368.0" x2="914.6" y2="369.6" stroke="#3a3a3a" stroke-width="0.5"/>
<text x="914.6" y="376.7" font-size="6.8" text-anchor="middle" fill="#000000">5</text>
<line x1="958.3" y1="368.0" x2="958.3" y2="369.6" stroke="#3a3a3a" stroke-width="0.5"/>
<text x="958.3" y="376.7" font-size="6.8" text-anchor="middle" fill="#000000">10</text>
<line x1="1001.7" y1="368.0" x2="1001.7" y2="369.6" stroke="#3a3a3a" stroke-width="0.5"/>
<text x="1001.7" y="376.7" font-size="6.8" text-anchor="middle" fill="#000000">15</text>
<line x1="1045.4" y1="368.0" x2="1045.4" y2="369.6" stroke="#3a3a3a" stroke-width="0.5"/>
<text x="1045.4" y="376.7" font-size="6.8" text-anchor="middle" fill="#000000">20</text>
<line x1="1088.8" y1="368.0" x2="1088.8" y2="369.6" stroke="#3a3a3a" stroke-width="0.5"/>
<text x="1088.8" y="376.7" font-size="6.8" text-anchor="middle" fill="#000000">25</text>
<line x1="1132.4" y1="368.0" x2="1132.4" y2="369.6" stroke="#3a3a3a" stroke-width="0.5"/>
<text x="1132.4" y="376.7" font-size="6.8" text-anchor="middle" fill="#000000">30</text>
<text x="1001.7" y="385.8" font-size="7.95" text-anchor="middle" fill="#000000">Follow up time (days)</text>
<text transform="translate(838.1,310.6) rotate(-90)" font-size="8.0" text-anchor="middle" fill="#000000">Survival probability</text>
<text x="879.8" y="308.9" font-size="7.9" fill="#000000">Log-rank P=0.017</text>
<line x1="899.2" y1="340.2" x2="907.8" y2="340.2" stroke="#F0923B" stroke-width="1.5"/>
<text x="912.0" y="341.9" font-size="5.3" fill="#000000">Tertile 1</text>
<line x1="899.2" y1="350.1" x2="907.8" y2="350.1" stroke="#4A9DEB" stroke-width="1.5"/>
<text x="912.0" y="351.8" font-size="5.3" fill="#000000">Tertile 2</text>
<line x1="899.2" y1="360.0" x2="907.8" y2="360.0" stroke="#9240E0" stroke-width="1.5"/>
<text x="912.0" y="361.7" font-size="5.3" fill="#000000">Tertile 3</text>
<path d="M871.0,259.0 L878.7,259.0 L883.0,263.3 L889.5,268.6 L895.9,269.1 L911.0,272.5 L915.3,273.4 L919.6,277.2 L926.0,280.5 L932.5,281.5 L941.1,284.3 L954.0,285.8 L962.6,286.9 L971.2,290.1 L983.0,294.0 L1005.6,294.4 L1012.0,296.6 L1061.5,296.2 L1067.9,298.7 L1074.4,301.5 L1102.3,302.0 L1108.8,303.5 L1121.7,304.1 L1132.4,304.8" fill="none" stroke="#F0923B" stroke-width="1.6" stroke-linejoin="round"/>
<line x1="1132.4" y1="303.3" x2="1132.4" y2="306.3" stroke="#F0923B" stroke-width="1"/>
<path d="M871.0,259.0 L887.3,259.0 L895.9,263.3 L911.0,267.6 L932.5,271.9 L958.3,275.1 L983.0,277.7 L1001.3,279.0 L1045.4,280.9 L1061.5,283.1 L1086.2,285.8 L1132.4,286.9" fill="none" stroke="#4A9DEB" stroke-width="1.6" stroke-linejoin="round"/>
<line x1="1132.4" y1="285.4" x2="1132.4" y2="288.4" stroke="#4A9DEB" stroke-width="1"/>
<path d="M871.0,259.0 L878.7,259.0 L889.5,262.2 L898.1,265.9 L911.0,268.6 L932.5,269.7 L958.3,272.5 L971.2,276.8 L983.0,281.1 L997.0,283.7 L1018.5,284.8 L1040.0,288.0 L1061.5,290.1 L1083.0,292.3 L1108.8,293.6 L1132.4,294.0" fill="none" stroke="#9240E0" stroke-width="1.6" stroke-linejoin="round"/>
<line x1="1132.4" y1="292.5" x2="1132.4" y2="295.5" stroke="#9240E0" stroke-width="1"/>
<text x="869.5" y="401.0" font-size="9.2" fill="#000000">Number at risk</text>
<path d="M869.5,406.2 V428.2 H1145.0" fill="none" stroke="#3a3a3a" stroke-width="0.7"/>
<text x="865.8" y="412.8" font-size="7.0" text-anchor="end" fill="#F0923B">Tertile 1</text>
<line x1="868.0" y1="410.5" x2="869.5" y2="410.5" stroke="#3a3a3a" stroke-width="0.5"/>
<text x="881.8" y="412.8" font-size="6.9" text-anchor="middle" fill="#000000">80</text>
<text x="923.7" y="412.8" font-size="6.9" text-anchor="middle" fill="#000000">69</text>
<text x="965.6" y="412.8" font-size="6.9" text-anchor="middle" fill="#000000">58</text>
<text x="1007.3" y="412.8" font-size="6.9" text-anchor="middle" fill="#000000">53</text>
<text x="1049.0" y="412.8" font-size="6.9" text-anchor="middle" fill="#000000">51</text>
<text x="1090.9" y="412.8" font-size="6.9" text-anchor="middle" fill="#000000">47</text>
<text x="1132.4" y="412.8" font-size="6.9" text-anchor="middle" fill="#000000">45</text>
<text x="865.8" y="419.7" font-size="7.0" text-anchor="end" fill="#4A9DEB">Tertile 2</text>
<line x1="868.0" y1="417.4" x2="869.5" y2="417.4" stroke="#3a3a3a" stroke-width="0.5"/>
<text x="881.8" y="419.7" font-size="6.9" text-anchor="middle" fill="#000000">186</text>
<text x="923.7" y="419.7" font-size="6.9" text-anchor="middle" fill="#000000">170</text>
<text x="965.6" y="419.7" font-size="6.9" text-anchor="middle" fill="#000000">157</text>
<text x="1007.3" y="419.7" font-size="6.9" text-anchor="middle" fill="#000000">149</text>
<text x="1049.0" y="419.7" font-size="6.9" text-anchor="middle" fill="#000000">146</text>
<text x="1090.9" y="419.7" font-size="6.9" text-anchor="middle" fill="#000000">137</text>
<text x="1132.4" y="419.7" font-size="6.9" text-anchor="middle" fill="#000000">136</text>
<text x="865.8" y="426.6" font-size="7.0" text-anchor="end" fill="#9240E0">Tertile 3</text>
<line x1="868.0" y1="424.3" x2="869.5" y2="424.3" stroke="#3a3a3a" stroke-width="0.5"/>
<text x="881.8" y="426.6" font-size="6.9" text-anchor="middle" fill="#000000">147</text>
<text x="923.7" y="426.6" font-size="6.9" text-anchor="middle" fill="#000000">132</text>
<text x="965.6" y="426.6" font-size="6.9" text-anchor="middle" fill="#000000">127</text>
<text x="1007.3" y="426.6" font-size="6.9" text-anchor="middle" fill="#000000">112</text>
<text x="1049.0" y="426.6" font-size="6.9" text-anchor="middle" fill="#000000">105</text>
<text x="1090.9" y="426.6" font-size="6.9" text-anchor="middle" fill="#000000">99</text>
<text x="1132.4" y="426.6" font-size="6.9" text-anchor="middle" fill="#000000">98</text>
<text x="881.8" y="436.8" font-size="6.8" text-anchor="middle" fill="#000000">0</text>
<text x="923.7" y="436.8" font-size="6.8" text-anchor="middle" fill="#000000">5</text>
<text x="965.6" y="436.8" font-size="6.8" text-anchor="middle" fill="#000000">10</text>
<text x="1007.3" y="436.8" font-size="6.8" text-anchor="middle" fill="#000000">15</text>
<text x="1049.0" y="436.8" font-size="6.8" text-anchor="middle" fill="#000000">20</text>
<text x="1090.9" y="436.8" font-size="6.8" text-anchor="middle" fill="#000000">25</text>
<text x="1132.4" y="436.8" font-size="6.8" text-anchor="middle" fill="#000000">30</text>
<text x="1007.3" y="445.8" font-size="7.95" text-anchor="middle" fill="#000000">Follow up time (days)</text>
<path d="M1177.3,259.6 V374.2 H1454.6" fill="none" stroke="#3a3a3a" stroke-width="0.7"/>
<line x1="1175.7" y1="264.8" x2="1177.3" y2="264.8" stroke="#3a3a3a" stroke-width="0.5"/>
<text x="1174.3" y="267.0" font-size="6.8" text-anchor="end" fill="#000000">1.00</text>
<line x1="1175.7" y1="290.9" x2="1177.3" y2="290.9" stroke="#3a3a3a" stroke-width="0.5"/>
<text x="1174.3" y="293.1" font-size="6.8" text-anchor="end" fill="#000000">0.75</text>
<line x1="1175.7" y1="316.9" x2="1177.3" y2="316.9" stroke="#3a3a3a" stroke-width="0.5"/>
<text x="1174.3" y="319.1" font-size="6.8" text-anchor="end" fill="#000000">0.50</text>
<line x1="1175.7" y1="343.0" x2="1177.3" y2="343.0" stroke="#3a3a3a" stroke-width="0.5"/>
<text x="1174.3" y="345.2" font-size="6.8" text-anchor="end" fill="#000000">0.25</text>
<line x1="1175.7" y1="369.5" x2="1177.3" y2="369.5" stroke="#3a3a3a" stroke-width="0.5"/>
<text x="1174.3" y="371.7" font-size="6.8" text-anchor="end" fill="#000000">0.00</text>
<line x1="1190.9" y1="374.2" x2="1190.9" y2="375.8" stroke="#3a3a3a" stroke-width="0.5"/>
<text x="1190.9" y="382.7" font-size="6.8" text-anchor="middle" fill="#000000">0</text>
<line x1="1229.4" y1="374.2" x2="1229.4" y2="375.8" stroke="#3a3a3a" stroke-width="0.5"/>
<text x="1229.4" y="382.7" font-size="6.8" text-anchor="middle" fill="#000000">15</text>
<line x1="1268.4" y1="374.2" x2="1268.4" y2="375.8" stroke="#3a3a3a" stroke-width="0.5"/>
<text x="1268.4" y="382.7" font-size="6.8" text-anchor="middle" fill="#000000">30</text>
<line x1="1307.6" y1="374.2" x2="1307.6" y2="375.8" stroke="#3a3a3a" stroke-width="0.5"/>
<text x="1307.6" y="382.7" font-size="6.8" text-anchor="middle" fill="#000000">45</text>
<line x1="1346.8" y1="374.2" x2="1346.8" y2="375.8" stroke="#3a3a3a" stroke-width="0.5"/>
<text x="1346.8" y="382.7" font-size="6.8" text-anchor="middle" fill="#000000">60</text>
<line x1="1386.2" y1="374.2" x2="1386.2" y2="375.8" stroke="#3a3a3a" stroke-width="0.5"/>
<text x="1386.2" y="382.7" font-size="6.8" text-anchor="middle" fill="#000000">75</text>
<line x1="1425.4" y1="374.2" x2="1425.4" y2="375.8" stroke="#3a3a3a" stroke-width="0.5"/>
<text x="1425.4" y="382.7" font-size="6.8" text-anchor="middle" fill="#000000">90</text>
<text x="1321.2" y="391.9" font-size="7.95" text-anchor="middle" fill="#000000">Follow up time (days)</text>
<text transform="translate(1157.8,315.9) rotate(-90)" font-size="8.0" text-anchor="middle" fill="#000000">Survival probability</text>
<text x="1193.4" y="325.1" font-size="7.9" fill="#000000">Log-rank P=0.045</text>
<line x1="1219.0" y1="346.5" x2="1227.3" y2="346.5" stroke="#F0923B" stroke-width="1.5"/>
<text x="1231.5" y="348.2" font-size="5.3" fill="#000000">Tertile 1</text>
<line x1="1219.0" y1="356.1" x2="1227.3" y2="356.1" stroke="#4A9DEB" stroke-width="1.5"/>
<text x="1231.5" y="357.8" font-size="5.3" fill="#000000">Tertile 2</text>
<line x1="1219.0" y1="365.9" x2="1227.3" y2="365.9" stroke="#9240E0" stroke-width="1.5"/>
<text x="1231.5" y="367.6" font-size="5.3" fill="#000000">Tertile 3</text>
<path d="M1190.9,264.8 L1193.4,269.0 L1196.1,274.2 L1200.2,277.3 L1204.4,280.4 L1207.5,285.7 L1211.7,289.8 L1219.0,294.0 L1224.2,299.6 L1232.6,301.7 L1247.1,301.7 L1251.3,306.5 L1259.7,307.1 L1265.9,310.0 L1324.3,310.0 L1328.5,311.7 L1409.8,311.7 L1416.0,314.4 L1426.4,314.4" fill="none" stroke="#F0923B" stroke-width="1.6" stroke-linejoin="round"/>
<line x1="1426.4" y1="312.9" x2="1426.4" y2="315.9" stroke="#F0923B" stroke-width="1"/>
<path d="M1190.9,264.8 L1195.0,267.9 L1199.2,273.1 L1205.5,276.3 L1211.7,279.4 L1222.1,283.1 L1232.6,285.2 L1245.1,287.7 L1255.5,291.9 L1270.1,292.5 L1290.9,294.4 L1332.6,295.4 L1353.5,296.7 L1374.3,297.5 L1405.6,298.2 L1416.0,299.6 L1426.4,299.8" fill="none" stroke="#4A9DEB" stroke-width="1.6" stroke-linejoin="round"/>
<line x1="1426.4" y1="298.3" x2="1426.4" y2="301.3" stroke="#4A9DEB" stroke-width="1"/>
<path d="M1190.9,264.8 L1194.0,265.8 L1197.1,271.1 L1203.4,274.8 L1215.9,278.4 L1220.0,282.5 L1226.3,287.7 L1234.6,290.9 L1243.0,295.0 L1255.5,298.6 L1270.1,299.6 L1311.8,300.9 L1322.2,302.3 L1343.0,303.4 L1353.5,305.0 L1370.1,305.9 L1374.3,307.1 L1426.4,307.5" fill="none" stroke="#9240E0" stroke-width="1.6" stroke-linejoin="round"/>
<line x1="1426.4" y1="306.0" x2="1426.4" y2="309.0" stroke="#9240E0" stroke-width="1"/>
<text x="1189.2" y="407.1" font-size="9.2" fill="#000000">Number at risk</text>
<path d="M1189.2,412.8 V434.1 H1454.6" fill="none" stroke="#3a3a3a" stroke-width="0.7"/>
<text x="1185.6" y="418.7" font-size="7.0" text-anchor="end" fill="#F0923B">Tertile 1</text>
<line x1="1187.7" y1="416.4" x2="1189.2" y2="416.4" stroke="#3a3a3a" stroke-width="0.5"/>
<text x="1201.3" y="418.7" font-size="6.9" text-anchor="middle" fill="#000000">80</text>
<text x="1239.2" y="418.7" font-size="6.9" text-anchor="middle" fill="#000000">53</text>
<text x="1276.7" y="418.7" font-size="6.9" text-anchor="middle" fill="#000000">45</text>
<text x="1314.3" y="418.7" font-size="6.9" text-anchor="middle" fill="#000000">45</text>
<text x="1351.8" y="418.7" font-size="6.9" text-anchor="middle" fill="#000000">44</text>
<text x="1389.3" y="418.7" font-size="6.9" text-anchor="middle" fill="#000000">44</text>
<text x="1426.8" y="418.7" font-size="6.9" text-anchor="middle" fill="#000000">42</text>
<text x="1185.6" y="425.5" font-size="7.0" text-anchor="end" fill="#4A9DEB">Tertile 2</text>
<line x1="1187.7" y1="423.2" x2="1189.2" y2="423.2" stroke="#3a3a3a" stroke-width="0.5"/>
<text x="1201.3" y="425.5" font-size="6.9" text-anchor="middle" fill="#000000">186</text>
<text x="1239.2" y="425.5" font-size="6.9" text-anchor="middle" fill="#000000">149</text>
<text x="1276.7" y="425.5" font-size="6.9" text-anchor="middle" fill="#000000">136</text>
<text x="1314.3" y="425.5" font-size="6.9" text-anchor="middle" fill="#000000">131</text>
<text x="1351.8" y="425.5" font-size="6.9" text-anchor="middle" fill="#000000">128</text>
<text x="1389.3" y="425.5" font-size="6.9" text-anchor="middle" fill="#000000">127</text>
<text x="1426.8" y="425.5" font-size="6.9" text-anchor="middle" fill="#000000">124</text>
<text x="1185.6" y="432.4" font-size="7.0" text-anchor="end" fill="#9240E0">Tertile 3</text>
<line x1="1187.7" y1="430.1" x2="1189.2" y2="430.1" stroke="#3a3a3a" stroke-width="0.5"/>
<text x="1201.3" y="432.4" font-size="6.9" text-anchor="middle" fill="#000000">147</text>
<text x="1239.2" y="432.4" font-size="6.9" text-anchor="middle" fill="#000000">112</text>
<text x="1276.7" y="432.4" font-size="6.9" text-anchor="middle" fill="#000000">98</text>
<text x="1314.3" y="432.4" font-size="6.9" text-anchor="middle" fill="#000000">96</text>
<text x="1351.8" y="432.4" font-size="6.9" text-anchor="middle" fill="#000000">92</text>
<text x="1389.3" y="432.4" font-size="6.9" text-anchor="middle" fill="#000000">87</text>
<text x="1426.8" y="432.4" font-size="6.9" text-anchor="middle" fill="#000000">87</text>
<text x="1201.3" y="442.7" font-size="6.8" text-anchor="middle" fill="#000000">0</text>
<text x="1239.2" y="442.7" font-size="6.8" text-anchor="middle" fill="#000000">15</text>
<text x="1276.7" y="442.7" font-size="6.8" text-anchor="middle" fill="#000000">30</text>
<text x="1314.3" y="442.7" font-size="6.8" text-anchor="middle" fill="#000000">45</text>
<text x="1351.8" y="442.7" font-size="6.8" text-anchor="middle" fill="#000000">60</text>
<text x="1389.3" y="442.7" font-size="6.8" text-anchor="middle" fill="#000000">75</text>
<text x="1426.8" y="442.7" font-size="6.8" text-anchor="middle" fill="#000000">90</text>
<text x="1326.8" y="452.3" font-size="7.95" text-anchor="middle" fill="#000000">Follow up time (days)</text>
<path d="M1018.1,458.9 V572.9 H1305.2" fill="none" stroke="#3a3a3a" stroke-width="0.7"/>
<line x1="1016.5" y1="463.7" x2="1018.1" y2="463.7" stroke="#3a3a3a" stroke-width="0.5"/>
<text x="1015.1" y="465.9" font-size="6.8" text-anchor="end" fill="#000000">1.00</text>
<line x1="1016.5" y1="489.9" x2="1018.1" y2="489.9" stroke="#3a3a3a" stroke-width="0.5"/>
<text x="1015.1" y="492.1" font-size="6.8" text-anchor="end" fill="#000000">0.75</text>
<line x1="1016.5" y1="516.0" x2="1018.1" y2="516.0" stroke="#3a3a3a" stroke-width="0.5"/>
<text x="1015.1" y="518.2" font-size="6.8" text-anchor="end" fill="#000000">0.50</text>
<line x1="1016.5" y1="542.1" x2="1018.1" y2="542.1" stroke="#3a3a3a" stroke-width="0.5"/>
<text x="1015.1" y="544.3" font-size="6.8" text-anchor="end" fill="#000000">0.25</text>
<line x1="1016.5" y1="568.5" x2="1018.1" y2="568.5" stroke="#3a3a3a" stroke-width="0.5"/>
<text x="1015.1" y="570.7" font-size="6.8" text-anchor="end" fill="#000000">0.00</text>
<line x1="1030.9" y1="572.9" x2="1030.9" y2="574.5" stroke="#3a3a3a" stroke-width="0.5"/>
<text x="1030.9" y="581.3" font-size="6.8" text-anchor="middle" fill="#000000">0</text>
<line x1="1063.5" y1="572.9" x2="1063.5" y2="574.5" stroke="#3a3a3a" stroke-width="0.5"/>
<text x="1063.5" y="581.3" font-size="6.8" text-anchor="middle" fill="#000000">50</text>
<line x1="1096.3" y1="572.9" x2="1096.3" y2="574.5" stroke="#3a3a3a" stroke-width="0.5"/>
<text x="1096.3" y="581.3" font-size="6.8" text-anchor="middle" fill="#000000">100</text>
<line x1="1128.8" y1="572.9" x2="1128.8" y2="574.5" stroke="#3a3a3a" stroke-width="0.5"/>
<text x="1128.8" y="581.3" font-size="6.8" text-anchor="middle" fill="#000000">150</text>
<line x1="1161.6" y1="572.9" x2="1161.6" y2="574.5" stroke="#3a3a3a" stroke-width="0.5"/>
<text x="1161.6" y="581.3" font-size="6.8" text-anchor="middle" fill="#000000">200</text>
<line x1="1194.2" y1="572.9" x2="1194.2" y2="574.5" stroke="#3a3a3a" stroke-width="0.5"/>
<text x="1194.2" y="581.3" font-size="6.8" text-anchor="middle" fill="#000000">250</text>
<line x1="1226.7" y1="572.9" x2="1226.7" y2="574.5" stroke="#3a3a3a" stroke-width="0.5"/>
<text x="1226.7" y="581.3" font-size="6.8" text-anchor="middle" fill="#000000">300</text>
<line x1="1259.5" y1="572.9" x2="1259.5" y2="574.5" stroke="#3a3a3a" stroke-width="0.5"/>
<text x="1259.5" y="581.3" font-size="6.8" text-anchor="middle" fill="#000000">350</text>
<line x1="1292.1" y1="572.9" x2="1292.1" y2="574.5" stroke="#3a3a3a" stroke-width="0.5"/>
<text x="1292.1" y="581.3" font-size="6.8" text-anchor="middle" fill="#000000">400</text>
<text x="1161.6" y="591.3" font-size="7.95" text-anchor="middle" fill="#000000">Follow up time (days)</text>
<text transform="translate(998.4,515.8) rotate(-90)" font-size="8.0" text-anchor="middle" fill="#000000">Survival probability</text>
<text x="1031.4" y="524.4" font-size="7.9" fill="#000000">Log-rank P=0.05</text>
<line x1="1059.7" y1="545.7" x2="1067.5" y2="545.7" stroke="#F0923B" stroke-width="1.5"/>
<text x="1071.9" y="547.4" font-size="5.3" fill="#000000">Tertile 1</text>
<line x1="1059.7" y1="555.4" x2="1067.5" y2="555.4" stroke="#4A9DEB" stroke-width="1.5"/>
<text x="1071.9" y="557.1" font-size="5.3" fill="#000000">Tertile 2</text>
<line x1="1059.7" y1="565.2" x2="1067.5" y2="565.2" stroke="#9240E0" stroke-width="1.5"/>
<text x="1071.9" y="566.9" font-size="5.3" fill="#000000">Tertile 3</text>
<path d="M1031.4,463.7 L1033.2,474.4 L1035.4,485.4 L1038.0,494.3 L1040.2,500.5 L1044.2,502.1 L1046.4,506.5 L1050.9,509.4 L1064.2,509.8 L1068.6,510.9 L1084.1,511.4 L1088.5,513.1 L1097.4,514.2 L1117.3,514.7 L1121.8,516.0 L1172.7,516.0 L1176.0,518.2 L1208.1,518.2 L1211.5,520.2 L1269.1,520.2" fill="none" stroke="#F0923B" stroke-width="1.6" stroke-linejoin="round"/>
<line x1="1269.1" y1="518.7" x2="1269.1" y2="521.7" stroke="#F0923B" stroke-width="1"/>
<path d="M1031.4,463.7 L1033.2,471.0 L1036.5,477.7 L1039.8,483.2 L1044.2,486.5 L1047.6,490.5 L1055.3,492.7 L1064.2,495.0 L1079.7,497.0 L1095.2,499.2 L1112.9,500.5 L1137.3,500.9 L1143.9,502.5 L1157.2,503.8 L1225.9,503.8 L1232.5,504.9 L1269.1,505.4" fill="none" stroke="#4A9DEB" stroke-width="1.6" stroke-linejoin="round"/>
<line x1="1269.1" y1="503.9" x2="1269.1" y2="506.9" stroke="#4A9DEB" stroke-width="1"/>
<path d="M1031.4,463.7 L1032.7,469.9 L1035.4,477.7 L1038.7,484.3 L1042.0,491.0 L1046.4,496.5 L1050.9,498.3 L1062.0,499.8 L1068.6,502.1 L1077.5,505.4 L1086.3,506.5 L1124.0,507.1 L1130.6,508.7 L1157.2,509.4 L1245.8,509.8 L1254.7,511.4 L1269.1,512.7" fill="none" stroke="#9240E0" stroke-width="1.6" stroke-linejoin="round"/>
<line x1="1269.1" y1="511.2" x2="1269.1" y2="514.2" stroke="#9240E0" stroke-width="1"/>
<text x="1029.2" y="606.3" font-size="9.2" fill="#000000">Number at risk</text>
<path d="M1029.6,611.7 V633.4 H1305.2" fill="none" stroke="#3a3a3a" stroke-width="0.7"/>
<text x="1026.5" y="617.8" font-size="7.0" text-anchor="end" fill="#F0923B">Tertile 1</text>
<line x1="1028.1" y1="615.5" x2="1029.6" y2="615.5" stroke="#3a3a3a" stroke-width="0.5"/>
<text x="1042.0" y="617.8" font-size="6.9" text-anchor="middle" fill="#000000">80</text>
<text x="1073.3" y="617.8" font-size="6.9" text-anchor="middle" fill="#000000">45</text>
<text x="1104.5" y="617.8" font-size="6.9" text-anchor="middle" fill="#000000">42</text>
<text x="1135.7" y="617.8" font-size="6.9" text-anchor="middle" fill="#000000">40</text>
<text x="1166.9" y="617.8" font-size="6.9" text-anchor="middle" fill="#000000">40</text>
<text x="1198.4" y="617.8" font-size="6.9" text-anchor="middle" fill="#000000">38</text>
<text x="1229.6" y="617.8" font-size="6.9" text-anchor="middle" fill="#000000">37</text>
<text x="1260.9" y="617.8" font-size="6.9" text-anchor="middle" fill="#000000">37</text>
<text x="1292.1" y="617.8" font-size="6.9" text-anchor="middle" fill="#000000">0</text>
<text x="1026.5" y="624.8" font-size="7.0" text-anchor="end" fill="#4A9DEB">Tertile 2</text>
<line x1="1028.1" y1="622.5" x2="1029.6" y2="622.5" stroke="#3a3a3a" stroke-width="0.5"/>
<text x="1042.0" y="624.8" font-size="6.9" text-anchor="middle" fill="#000000">186</text>
<text x="1073.3" y="624.8" font-size="6.9" text-anchor="middle" fill="#000000">131</text>
<text x="1104.5" y="624.8" font-size="6.9" text-anchor="middle" fill="#000000">123</text>
<text x="1135.7" y="624.8" font-size="6.9" text-anchor="middle" fill="#000000">120</text>
<text x="1166.9" y="624.8" font-size="6.9" text-anchor="middle" fill="#000000">115</text>
<text x="1198.4" y="624.8" font-size="6.9" text-anchor="middle" fill="#000000">115</text>
<text x="1229.6" y="624.8" font-size="6.9" text-anchor="middle" fill="#000000">115</text>
<text x="1260.9" y="624.8" font-size="6.9" text-anchor="middle" fill="#000000">112</text>
<text x="1292.1" y="624.8" font-size="6.9" text-anchor="middle" fill="#000000">0</text>
<text x="1026.5" y="631.7" font-size="7.0" text-anchor="end" fill="#9240E0">Tertile 3</text>
<line x1="1028.1" y1="629.4" x2="1029.6" y2="629.4" stroke="#3a3a3a" stroke-width="0.5"/>
<text x="1042.0" y="631.7" font-size="6.9" text-anchor="middle" fill="#000000">147</text>
<text x="1073.3" y="631.7" font-size="6.9" text-anchor="middle" fill="#000000">94</text>
<text x="1104.5" y="631.7" font-size="6.9" text-anchor="middle" fill="#000000">86</text>
<text x="1135.7" y="631.7" font-size="6.9" text-anchor="middle" fill="#000000">84</text>
<text x="1166.9" y="631.7" font-size="6.9" text-anchor="middle" fill="#000000">83</text>
<text x="1198.4" y="631.7" font-size="6.9" text-anchor="middle" fill="#000000">82</text>
<text x="1229.6" y="631.7" font-size="6.9" text-anchor="middle" fill="#000000">82</text>
<text x="1260.9" y="631.7" font-size="6.9" text-anchor="middle" fill="#000000">80</text>
<text x="1292.1" y="631.7" font-size="6.9" text-anchor="middle" fill="#000000">0</text>
<text x="1042.0" y="642.0" font-size="6.8" text-anchor="middle" fill="#000000">0</text>
<text x="1073.3" y="642.0" font-size="6.8" text-anchor="middle" fill="#000000">50</text>
<text x="1104.5" y="642.0" font-size="6.8" text-anchor="middle" fill="#000000">100</text>
<text x="1135.7" y="642.0" font-size="6.8" text-anchor="middle" fill="#000000">150</text>
<text x="1166.9" y="642.0" font-size="6.8" text-anchor="middle" fill="#000000">200</text>
<text x="1198.4" y="642.0" font-size="6.8" text-anchor="middle" fill="#000000">250</text>
<text x="1229.6" y="642.0" font-size="6.8" text-anchor="middle" fill="#000000">300</text>
<text x="1260.9" y="642.0" font-size="6.8" text-anchor="middle" fill="#000000">350</text>
<text x="1292.1" y="642.0" font-size="6.8" text-anchor="middle" fill="#000000">400</text>
<text x="1167.2" y="651.5" font-size="7.95" text-anchor="middle" fill="#000000">Follow up time (days)</text>
</g>
<g id="rcs" filter="url(#soft)">
<text x="975.6" y="731.7" font-size="7.4" font-weight="bold" text-anchor="middle" textLength="103" lengthAdjust="spacingAndGlyphs" fill="#111">Distribution of TYGBMI</text>
<rect x="842.43" y="883.38" width="8.12" height="5.59" fill="#6A9AC8"/>
<rect x="851.34" y="883.38" width="8.12" height="5.59" fill="#6A9AC8"/>
<rect x="860.26" y="855.43" width="8.12" height="33.55" fill="#6A9AC8"/>
<rect x="869.17" y="827.47" width="8.12" height="61.50" fill="#6A9AC8"/>
<rect x="878.09" y="807.91" width="8.12" height="81.07" fill="#6A9AC8"/>
<rect x="887.00" y="768.77" width="8.12" height="120.20" fill="#6A9AC8"/>
<rect x="895.92" y="743.61" width="8.12" height="145.36" fill="#6A9AC8"/>
<rect x="904.83" y="754.79" width="8.12" height="134.18" fill="#6A9AC8"/>
<rect x="913.75" y="763.18" width="8.12" height="125.79" fill="#6A9AC8"/>
<rect x="922.66" y="791.13" width="8.12" height="97.84" fill="#6A9AC8"/>
<rect x="931.58" y="813.50" width="8.12" height="75.48" fill="#6A9AC8"/>
<rect x="940.50" y="830.27" width="8.12" height="58.70" fill="#6A9AC8"/>
<rect x="949.41" y="838.66" width="8.12" height="50.32" fill="#6A9AC8"/>
<rect x="958.33" y="861.02" width="8.12" height="27.95" fill="#6A9AC8"/>
<rect x="967.24" y="863.81" width="8.12" height="25.16" fill="#6A9AC8"/>
<rect x="976.16" y="858.22" width="8.12" height="30.75" fill="#6A9AC8"/>
<rect x="985.07" y="866.61" width="8.12" height="22.36" fill="#6A9AC8"/>
<rect x="993.99" y="877.79" width="8.12" height="11.18" fill="#6A9AC8"/>
<rect x="1002.90" y="880.59" width="8.12" height="8.39" fill="#6A9AC8"/>
<rect x="1011.82" y="880.59" width="8.12" height="8.39" fill="#6A9AC8"/>
<rect x="1020.73" y="886.18" width="8.12" height="2.80" fill="#6A9AC8"/>
<rect x="1029.65" y="877.79" width="8.12" height="11.18" fill="#6A9AC8"/>
<rect x="1047.48" y="883.38" width="8.12" height="5.59" fill="#6A9AC8"/>
<rect x="1065.31" y="886.18" width="8.12" height="2.80" fill="#6A9AC8"/>
<rect x="1100.97" y="886.18" width="8.12" height="2.80" fill="#6A9AC8"/>
<text transform="translate(822.4,750.8) scale(1.35,1)" font-size="4.6" text-anchor="middle" fill="#777777">50</text>
<text transform="translate(822.4,778.6) scale(1.35,1)" font-size="4.6" text-anchor="middle" fill="#777777">40</text>
<text transform="translate(822.4,806.7) scale(1.35,1)" font-size="4.6" text-anchor="middle" fill="#777777">30</text>
<text transform="translate(822.4,834.7) scale(1.35,1)" font-size="4.6" text-anchor="middle" fill="#777777">20</text>
<text transform="translate(822.4,862.5) scale(1.35,1)" font-size="4.6" text-anchor="middle" fill="#777777">10</text>
<text transform="translate(822.4,890.6) scale(1.35,1)" font-size="4.6" text-anchor="middle" fill="#777777">0</text>
<text transform="translate(841.3,902.4) scale(1.35,1)" font-size="4.6" text-anchor="middle" fill="#777777">100</text>
<text transform="translate(865.2,902.4) scale(1.35,1)" font-size="4.6" text-anchor="middle" fill="#777777">150</text>
<text transform="translate(889.2,902.4) scale(1.35,1)" font-size="4.6" text-anchor="middle" fill="#777777">200</text>
<text transform="translate(913.1,902.4) scale(1.35,1)" font-size="4.6" text-anchor="middle" fill="#777777">250</text>
<text transform="translate(936.8,902.4) scale(1.35,1)" font-size="4.6" text-anchor="middle" fill="#777777">300</text>
<text transform="translate(960.8,902.4) scale(1.35,1)" font-size="4.6" text-anchor="middle" fill="#777777">350</text>
<text transform="translate(984.7,902.4) scale(1.35,1)" font-size="4.6" text-anchor="middle" fill="#777777">400</text>
<text transform="translate(1008.6,902.4) scale(1.35,1)" font-size="4.6" text-anchor="middle" fill="#777777">450</text>
<text transform="translate(1032.6,902.4) scale(1.35,1)" font-size="4.6" text-anchor="middle" fill="#777777">500</text>
<text x="975.6" y="909.9" font-size="6.3" text-anchor="middle" textLength="29" lengthAdjust="spacingAndGlyphs" fill="#1a1a1a">TYGBMI</text>
<text transform="translate(813.9,816.5) rotate(-90)" font-size="6.0" text-anchor="middle" fill="#1a1a1a">Frequency</text>
<line x1="1179.2" y1="726.4" x2="1179.2" y2="908.8" stroke="#EFEFEF" stroke-width="0.7"/>
<line x1="1225.7" y1="726.4" x2="1225.7" y2="908.8" stroke="#EFEFEF" stroke-width="0.7"/>
<line x1="1272.2" y1="726.4" x2="1272.2" y2="908.8" stroke="#EFEFEF" stroke-width="0.7"/>
<line x1="1318.8" y1="726.4" x2="1318.8" y2="908.8" stroke="#EFEFEF" stroke-width="0.7"/>
<line x1="1365.3" y1="726.4" x2="1365.3" y2="908.8" stroke="#EFEFEF" stroke-width="0.7"/>
<line x1="1411.3" y1="726.4" x2="1411.3" y2="908.8" stroke="#EFEFEF" stroke-width="0.7"/>
<line x1="1457.9" y1="726.4" x2="1457.9" y2="908.8" stroke="#EFEFEF" stroke-width="0.7"/>
<line x1="1202.5" y1="726.4" x2="1202.5" y2="908.8" stroke="#F6F6F6" stroke-width="0.5"/>
<line x1="1249.0" y1="726.4" x2="1249.0" y2="908.8" stroke="#F6F6F6" stroke-width="0.5"/>
<line x1="1295.5" y1="726.4" x2="1295.5" y2="908.8" stroke="#F6F6F6" stroke-width="0.5"/>
<line x1="1342.0" y1="726.4" x2="1342.0" y2="908.8" stroke="#F6F6F6" stroke-width="0.5"/>
<line x1="1388.5" y1="726.4" x2="1388.5" y2="908.8" stroke="#F6F6F6" stroke-width="0.5"/>
<line x1="1435.0" y1="726.4" x2="1435.0" y2="908.8" stroke="#F6F6F6" stroke-width="0.5"/>
<line x1="1167.4" y1="733.2" x2="1477.5" y2="733.2" stroke="#EFEFEF" stroke-width="0.7"/>
<line x1="1167.4" y1="800.5" x2="1477.5" y2="800.5" stroke="#EFEFEF" stroke-width="0.7"/>
<line x1="1167.4" y1="867.8" x2="1477.5" y2="867.8" stroke="#EFEFEF" stroke-width="0.7"/>
<line x1="1167.4" y1="766.9" x2="1477.5" y2="766.9" stroke="#F6F6F6" stroke-width="0.5"/>
<line x1="1167.4" y1="834.1" x2="1477.5" y2="834.1" stroke="#F6F6F6" stroke-width="0.5"/>
<line x1="1167.4" y1="901.4" x2="1477.5" y2="901.4" stroke="#F6F6F6" stroke-width="0.5"/>
<path d="M1181.7,737.8 C1182.8,741.6 1185.3,751.9 1187.9,760.6 C1190.4,769.3 1193.6,780.7 1197.0,790.2 C1200.4,799.7 1204.6,810.0 1208.4,817.6 C1212.2,825.2 1216.0,830.7 1219.8,835.8 C1223.6,841.0 1227.4,845.0 1231.2,848.4 C1235.0,851.8 1238.8,854.3 1242.6,856.4 C1246.4,858.5 1250.6,859.6 1254.0,860.9 C1257.4,862.3 1260.1,863.3 1263.1,864.3 C1266.2,865.4 1269.2,867.9 1272.2,867.3 C1275.3,866.7 1278.3,863.9 1281.4,860.9 C1284.4,858.0 1287.4,853.3 1290.5,849.5 C1293.5,845.7 1296.2,841.9 1299.6,838.1 C1303.0,834.3 1307.2,830.1 1311.0,826.7 C1314.8,823.3 1318.6,820.3 1322.4,817.6 C1326.2,814.9 1330.0,812.7 1333.8,810.8 C1337.6,808.9 1341.4,807.5 1345.2,806.2 C1349.0,804.9 1352.8,803.7 1356.6,802.8 C1360.4,801.8 1364.2,801.3 1368.0,800.5 C1371.8,799.7 1375.6,799.2 1379.4,798.2 C1383.2,797.3 1387.0,795.9 1390.8,794.8 C1394.6,793.7 1398.4,792.7 1402.2,791.4 C1406.0,790.1 1409.8,788.7 1413.6,786.8 C1417.4,784.9 1421.2,782.5 1425.0,780.0 C1428.8,777.5 1432.6,774.9 1436.4,772.0 C1440.2,769.2 1444.0,765.9 1447.8,762.9 C1451.6,759.8 1455.9,756.4 1459.2,753.8 C1462.6,751.1 1466.4,748.1 1467.9,746.9 L1467.9,880.3 C1465.7,879.8 1459.9,878.3 1454.7,877.3 C1449.4,876.4 1443.3,875.4 1436.4,874.6 C1429.6,873.8 1421.2,873.2 1413.6,872.8 C1406.0,872.4 1398.4,872.2 1390.8,872.3 C1383.2,872.4 1375.6,873.0 1368.0,873.5 C1360.4,874.0 1352.8,874.9 1345.2,875.3 C1337.6,875.7 1328.1,875.9 1322.4,876.0 C1316.7,876.0 1314.8,875.7 1311.0,875.5 C1307.2,875.3 1303.0,875.1 1299.6,874.6 C1296.2,874.2 1293.5,873.5 1290.5,872.8 C1287.4,872.0 1284.4,870.9 1281.4,870.0 C1278.3,869.2 1274.9,867.6 1272.2,867.8 C1269.6,868.0 1267.7,870.0 1265.4,871.2 C1263.1,872.3 1260.8,873.6 1258.6,874.6 C1256.3,875.6 1254.4,876.7 1251.7,877.3 C1249.1,878.0 1246.0,878.6 1242.6,878.7 C1239.2,878.8 1235.0,878.5 1231.2,878.0 C1227.4,877.5 1223.6,876.6 1219.8,875.7 C1216.0,874.9 1212.2,873.4 1208.4,872.8 C1204.6,872.1 1201.4,872.2 1197.0,871.9 C1192.6,871.5 1184.3,870.9 1181.7,870.7 Z" fill="#D3C1AD"/>
<line x1="1167.4" y1="867.8" x2="1477.5" y2="867.8" stroke="#777" stroke-width="0.8" stroke-dasharray="1.6 2"/>
<path d="M1181.7,823.3 C1183.1,825.0 1187.2,830.1 1190.2,833.6 C1193.1,837.0 1196.2,840.6 1199.3,843.8 C1202.3,847.1 1205.0,850.1 1208.4,852.9 C1211.8,855.8 1216.0,858.8 1219.8,860.9 C1223.6,863.1 1227.4,864.6 1231.2,865.9 C1235.0,867.3 1239.2,868.2 1242.6,868.9 C1246.0,869.6 1248.7,869.9 1251.7,870.0 C1254.8,870.2 1257.4,870.0 1260.8,869.6 C1264.3,869.1 1268.8,868.2 1272.2,867.3 C1275.7,866.4 1277.6,865.6 1281.4,864.3 C1285.2,863.1 1290.5,861.3 1295.0,859.8 C1299.6,858.3 1304.2,856.6 1308.7,855.2 C1313.3,853.9 1317.9,852.9 1322.4,851.8 C1327.0,850.7 1331.5,849.7 1336.1,848.8 C1340.7,848.0 1344.5,847.4 1349.8,846.6 C1355.1,845.7 1361.2,844.8 1368.0,843.8 C1374.9,842.9 1383.2,841.7 1390.8,840.9 C1398.4,840.0 1406.0,839.5 1413.6,838.8 C1421.2,838.2 1428.8,837.7 1436.4,837.0 C1444.0,836.3 1454.0,835.3 1459.2,834.7 C1464.5,834.1 1466.4,833.8 1467.9,833.6" fill="none" stroke="#E8802F" stroke-width="1.55" stroke-linecap="round"/>
<text transform="translate(1179.2,916.3) scale(1.35,1)" font-size="4.6" text-anchor="middle" fill="#777777">150</text>
<text transform="translate(1225.7,916.3) scale(1.35,1)" font-size="4.6" text-anchor="middle" fill="#777777">200</text>
<text transform="translate(1272.2,916.3) scale(1.35,1)" font-size="4.6" text-anchor="middle" fill="#777777">250</text>
<text transform="translate(1318.8,916.3) scale(1.35,1)" font-size="4.6" text-anchor="middle" fill="#777777">300</text>
<text transform="translate(1365.3,916.3) scale(1.35,1)" font-size="4.6" text-anchor="middle" fill="#777777">350</text>
<text transform="translate(1411.3,916.3) scale(1.35,1)" font-size="4.6" text-anchor="middle" fill="#777777">400</text>
<text transform="translate(1457.9,916.3) scale(1.35,1)" font-size="4.6" text-anchor="middle" fill="#777777">450</text>
<text transform="translate(1161.7,734.8) scale(1.35,1)" font-size="4.6" text-anchor="middle" fill="#777777">3</text>
<text transform="translate(1161.7,802.1) scale(1.35,1)" font-size="4.6" text-anchor="middle" fill="#777777">2</text>
<text transform="translate(1161.7,869.4) scale(1.35,1)" font-size="4.6" text-anchor="middle" fill="#777777">1</text>
<text x="1324.7" y="923.6" font-size="6.3" text-anchor="middle" textLength="30" lengthAdjust="spacingAndGlyphs" fill="#1a1a1a">TYGBMI</text>
<text transform="translate(1155.1,816.5) rotate(-90)" font-size="5.6" text-anchor="middle" textLength="66" lengthAdjust="spacingAndGlyphs" fill="#1a1a1a">Hazard Ratio (95% CI)</text>
<text x="1335.6" y="764.2" font-size="8.2" textLength="122.5" lengthAdjust="spacingAndGlyphs" fill="#000" stroke="#000" stroke-width="0.12">P for non-linear = 0.138</text>
<text x="1335.6" y="775.4" font-size="8.2" textLength="104" lengthAdjust="spacingAndGlyphs" fill="#000" stroke="#000" stroke-width="0.12">P for overall &lt; 0.001</text>
<line x1="829.7" y1="930.3" x2="829.7" y2="1112.7" stroke="#EFEFEF" stroke-width="0.7"/>
<line x1="875.3" y1="930.3" x2="875.3" y2="1112.7" stroke="#EFEFEF" stroke-width="0.7"/>
<line x1="920.9" y1="930.3" x2="920.9" y2="1112.7" stroke="#EFEFEF" stroke-width="0.7"/>
<line x1="966.7" y1="930.3" x2="966.7" y2="1112.7" stroke="#EFEFEF" stroke-width="0.7"/>
<line x1="1012.8" y1="930.3" x2="1012.8" y2="1112.7" stroke="#EFEFEF" stroke-width="0.7"/>
<line x1="1058.4" y1="930.3" x2="1058.4" y2="1112.7" stroke="#EFEFEF" stroke-width="0.7"/>
<line x1="1104.4" y1="930.3" x2="1104.4" y2="1112.7" stroke="#EFEFEF" stroke-width="0.7"/>
<line x1="852.5" y1="930.3" x2="852.5" y2="1112.7" stroke="#F6F6F6" stroke-width="0.5"/>
<line x1="898.1" y1="930.3" x2="898.1" y2="1112.7" stroke="#F6F6F6" stroke-width="0.5"/>
<line x1="943.7" y1="930.3" x2="943.7" y2="1112.7" stroke="#F6F6F6" stroke-width="0.5"/>
<line x1="989.3" y1="930.3" x2="989.3" y2="1112.7" stroke="#F6F6F6" stroke-width="0.5"/>
<line x1="1034.9" y1="930.3" x2="1034.9" y2="1112.7" stroke="#F6F6F6" stroke-width="0.5"/>
<line x1="1080.5" y1="930.3" x2="1080.5" y2="1112.7" stroke="#F6F6F6" stroke-width="0.5"/>
<line x1="818.9" y1="937.1" x2="1127.9" y2="937.1" stroke="#EFEFEF" stroke-width="0.7"/>
<line x1="818.9" y1="1004.4" x2="1127.9" y2="1004.4" stroke="#EFEFEF" stroke-width="0.7"/>
<line x1="818.9" y1="1071.9" x2="1127.9" y2="1071.9" stroke="#EFEFEF" stroke-width="0.7"/>
<line x1="818.9" y1="970.7" x2="1127.9" y2="970.7" stroke="#F6F6F6" stroke-width="0.5"/>
<line x1="818.9" y1="1038.0" x2="1127.9" y2="1038.0" stroke="#F6F6F6" stroke-width="0.5"/>
<line x1="818.9" y1="1105.5" x2="1127.9" y2="1105.5" stroke="#F6F6F6" stroke-width="0.5"/>
<path d="M831.9,948.5 C832.6,951.4 834.2,958.6 836.0,965.6 C837.9,972.6 840.2,981.9 842.9,990.7 C845.5,999.4 848.6,1009.7 852.0,1018.0 C855.4,1026.4 859.6,1034.8 863.4,1040.8 C867.2,1046.9 871.0,1050.9 874.8,1054.5 C878.6,1058.1 882.4,1060.4 886.2,1062.5 C890.0,1064.6 893.8,1065.9 897.6,1067.1 C901.4,1068.2 905.2,1068.6 909.0,1069.3 C912.8,1070.1 917.0,1072.6 920.4,1071.6 C923.8,1070.7 926.1,1067.3 929.5,1063.6 C932.9,1060.0 937.1,1054.5 940.9,1050.0 C944.7,1045.4 948.5,1040.5 952.3,1036.3 C956.1,1032.1 959.9,1028.1 963.7,1024.9 C967.5,1021.7 971.3,1019.2 975.1,1016.9 C978.9,1014.6 982.7,1012.8 986.5,1011.2 C990.3,1009.6 993.8,1008.4 997.9,1007.1 C1002.1,1005.8 1007.4,1004.3 1011.6,1003.2 C1015.8,1002.2 1019.2,1001.7 1023.0,1000.9 C1026.8,1000.2 1030.6,999.5 1034.4,998.7 C1038.2,997.8 1042.0,997.0 1045.8,995.9 C1049.6,994.9 1053.4,993.8 1057.2,992.5 C1061.0,991.2 1064.8,989.7 1068.6,987.9 C1072.4,986.2 1076.2,984.2 1080.0,982.0 C1083.8,979.8 1087.6,977.3 1091.4,974.7 C1095.2,972.2 1099.0,969.5 1102.8,966.7 C1106.6,964.0 1112.3,959.7 1114.2,958.3 L1114.2,1081.4 C1111.6,1080.9 1104.0,1079.5 1098.3,1078.5 C1092.6,1077.4 1086.9,1076.1 1080.0,1075.0 C1073.2,1074.0 1064.8,1072.9 1057.2,1072.3 C1049.6,1071.7 1042.0,1071.5 1034.4,1071.4 C1026.8,1071.3 1019.2,1071.6 1011.6,1071.9 C1004.0,1072.2 995.3,1072.8 988.8,1073.2 C982.4,1073.7 978.6,1074.3 972.9,1074.6 C967.1,1074.9 959.5,1075.0 954.6,1075.0 C949.7,1075.0 947.0,1074.9 943.2,1074.6 C939.4,1074.3 935.5,1073.6 931.8,1073.2 C928.1,1072.8 923.9,1071.4 920.9,1072.1 C917.8,1072.8 915.9,1075.9 913.6,1077.3 C911.2,1078.8 909.4,1079.8 906.7,1080.7 C904.1,1081.7 901.0,1082.8 897.6,1083.3 C894.2,1083.8 890.0,1083.9 886.2,1083.7 C882.4,1083.6 878.6,1083.0 874.8,1082.3 C871.0,1081.7 867.2,1080.4 863.4,1079.6 C859.6,1078.8 857.2,1078.4 852.0,1077.3 C846.8,1076.3 835.3,1073.9 831.9,1073.2 Z" fill="#D3C1AD"/>
<line x1="818.9" y1="1071.9" x2="1127.9" y2="1071.9" stroke="#777" stroke-width="0.8" stroke-dasharray="1.6 2"/>
<path d="M831.9,1026.7 C833.4,1028.7 837.3,1034.3 840.6,1038.6 C843.9,1042.8 848.2,1048.3 852.0,1052.2 C855.8,1056.2 859.6,1059.7 863.4,1062.5 C867.2,1065.4 871.0,1067.4 874.8,1069.3 C878.6,1071.2 882.4,1072.8 886.2,1073.9 C890.0,1075.0 893.8,1075.6 897.6,1075.7 C901.4,1075.8 905.1,1075.3 909.0,1074.6 C912.9,1073.9 917.1,1072.9 920.9,1071.6 C924.7,1070.4 927.7,1068.9 931.8,1067.1 C935.9,1065.3 940.9,1062.8 945.5,1060.9 C950.0,1059.0 954.6,1057.3 959.2,1055.7 C963.7,1054.0 967.9,1052.5 972.9,1051.1 C977.8,1049.7 983.5,1048.4 988.8,1047.2 C994.1,1046.1 999.1,1045.1 1004.8,1044.3 C1010.5,1043.4 1016.2,1042.6 1023.0,1042.0 C1029.9,1041.3 1038.2,1040.9 1045.8,1040.4 C1053.4,1039.9 1061.0,1039.4 1068.6,1039.0 C1076.2,1038.6 1083.8,1038.2 1091.4,1037.9 C1099.0,1037.5 1110.4,1037.1 1114.2,1037.0" fill="none" stroke="#E8802F" stroke-width="1.55" stroke-linecap="round"/>
<text transform="translate(829.7,1121.1) scale(1.35,1)" font-size="4.6" text-anchor="middle" fill="#777777">150</text>
<text transform="translate(875.3,1121.1) scale(1.35,1)" font-size="4.6" text-anchor="middle" fill="#777777">200</text>
<text transform="translate(920.9,1121.1) scale(1.35,1)" font-size="4.6" text-anchor="middle" fill="#777777">250</text>
<text transform="translate(966.7,1121.1) scale(1.35,1)" font-size="4.6" text-anchor="middle" fill="#777777">300</text>
<text transform="translate(1012.8,1121.1) scale(1.35,1)" font-size="4.6" text-anchor="middle" fill="#777777">350</text>
<text transform="translate(1058.4,1121.1) scale(1.35,1)" font-size="4.6" text-anchor="middle" fill="#777777">400</text>
<text transform="translate(1104.4,1121.1) scale(1.35,1)" font-size="4.6" text-anchor="middle" fill="#777777">450</text>
<text transform="translate(812.1,938.7) scale(1.35,1)" font-size="4.6" text-anchor="middle" fill="#777777">3</text>
<text transform="translate(812.1,1006.0) scale(1.35,1)" font-size="4.6" text-anchor="middle" fill="#777777">2</text>
<text transform="translate(812.1,1073.5) scale(1.35,1)" font-size="4.6" text-anchor="middle" fill="#777777">1</text>
<text x="973.5" y="1128.6" font-size="6.3" text-anchor="middle" textLength="30" lengthAdjust="spacingAndGlyphs" fill="#1a1a1a">TYGBMI</text>
<text transform="translate(806.0,1021.5) rotate(-90)" font-size="5.6" text-anchor="middle" textLength="66" lengthAdjust="spacingAndGlyphs" fill="#1a1a1a">Hazard Ratio (95% CI)</text>
<text x="992.7" y="949.8" font-size="8.2" textLength="122.5" lengthAdjust="spacingAndGlyphs" fill="#000" stroke="#000" stroke-width="0.12">P for non-linear = 0.070</text>
<text x="992.7" y="960.8" font-size="8.2" textLength="104" lengthAdjust="spacingAndGlyphs" fill="#000" stroke="#000" stroke-width="0.12">P for overall &lt; 0.001</text>
<line x1="1186.1" y1="928.0" x2="1186.1" y2="1109.3" stroke="#EFEFEF" stroke-width="0.7"/>
<line x1="1231.2" y1="928.0" x2="1231.2" y2="1109.3" stroke="#EFEFEF" stroke-width="0.7"/>
<line x1="1276.8" y1="928.0" x2="1276.8" y2="1109.3" stroke="#EFEFEF" stroke-width="0.7"/>
<line x1="1322.0" y1="928.0" x2="1322.0" y2="1109.3" stroke="#EFEFEF" stroke-width="0.7"/>
<line x1="1367.6" y1="928.0" x2="1367.6" y2="1109.3" stroke="#EFEFEF" stroke-width="0.7"/>
<line x1="1412.9" y1="928.0" x2="1412.9" y2="1109.3" stroke="#EFEFEF" stroke-width="0.7"/>
<line x1="1458.5" y1="928.0" x2="1458.5" y2="1109.3" stroke="#EFEFEF" stroke-width="0.7"/>
<line x1="1208.6" y1="928.0" x2="1208.6" y2="1109.3" stroke="#F6F6F6" stroke-width="0.5"/>
<line x1="1253.8" y1="928.0" x2="1253.8" y2="1109.3" stroke="#F6F6F6" stroke-width="0.5"/>
<line x1="1298.9" y1="928.0" x2="1298.9" y2="1109.3" stroke="#F6F6F6" stroke-width="0.5"/>
<line x1="1344.1" y1="928.0" x2="1344.1" y2="1109.3" stroke="#F6F6F6" stroke-width="0.5"/>
<line x1="1389.2" y1="928.0" x2="1389.2" y2="1109.3" stroke="#F6F6F6" stroke-width="0.5"/>
<line x1="1434.4" y1="928.0" x2="1434.4" y2="1109.3" stroke="#F6F6F6" stroke-width="0.5"/>
<line x1="1174.2" y1="934.8" x2="1479.7" y2="934.8" stroke="#EFEFEF" stroke-width="0.7"/>
<line x1="1174.2" y1="1001.6" x2="1479.7" y2="1001.6" stroke="#EFEFEF" stroke-width="0.7"/>
<line x1="1174.2" y1="1068.9" x2="1479.7" y2="1068.9" stroke="#EFEFEF" stroke-width="0.7"/>
<line x1="1174.2" y1="968.2" x2="1479.7" y2="968.2" stroke="#F6F6F6" stroke-width="0.5"/>
<line x1="1174.2" y1="1035.0" x2="1479.7" y2="1035.0" stroke="#F6F6F6" stroke-width="0.5"/>
<line x1="1174.2" y1="1102.3" x2="1479.7" y2="1102.3" stroke="#F6F6F6" stroke-width="0.5"/>
<path d="M1188.3,947.4 C1189.0,950.0 1190.6,956.5 1192.4,963.3 C1194.3,970.2 1196.6,979.7 1199.3,988.4 C1201.9,997.1 1205.0,1007.4 1208.4,1015.8 C1211.8,1024.1 1216.0,1032.5 1219.8,1038.6 C1223.6,1044.6 1227.4,1048.6 1231.2,1052.2 C1235.0,1055.9 1238.8,1058.1 1242.6,1060.2 C1246.4,1062.3 1250.2,1063.5 1254.0,1064.8 C1257.8,1066.0 1261.6,1067.0 1265.4,1067.8 C1269.2,1068.5 1273.4,1070.4 1276.8,1069.3 C1280.2,1068.3 1282.5,1065.0 1285.9,1061.4 C1289.3,1057.8 1293.5,1052.1 1297.3,1047.7 C1301.1,1043.3 1304.9,1038.9 1308.7,1035.1 C1312.5,1031.3 1316.3,1027.7 1320.1,1024.9 C1323.9,1022.0 1327.7,1020.0 1331.5,1018.0 C1335.3,1016.1 1338.8,1014.5 1342.9,1013.0 C1347.1,1011.5 1352.4,1010.0 1356.6,1008.9 C1360.8,1007.9 1364.2,1007.3 1368.0,1006.6 C1371.8,1006.0 1375.6,1005.5 1379.4,1004.8 C1383.2,1004.2 1387.0,1003.5 1390.8,1002.8 C1394.6,1002.0 1398.4,1001.1 1402.2,1000.3 C1406.0,999.4 1409.8,998.7 1413.6,997.5 C1417.4,996.3 1421.2,994.7 1425.0,993.0 C1428.8,991.3 1432.6,989.4 1436.4,987.3 C1440.2,985.2 1444.0,982.7 1447.8,980.4 C1451.6,978.1 1455.8,975.7 1459.2,973.6 C1462.6,971.4 1466.8,968.5 1468.3,967.4 L1468.3,1077.8 C1466.1,1077.3 1460.0,1076.0 1454.7,1075.0 C1449.3,1074.1 1443.3,1073.3 1436.4,1072.3 C1429.6,1071.4 1421.2,1070.0 1413.6,1069.3 C1406.0,1068.7 1398.4,1068.7 1390.8,1068.7 C1383.2,1068.7 1375.6,1069.0 1368.0,1069.3 C1360.4,1069.7 1352.8,1070.1 1345.2,1070.5 C1337.6,1070.8 1330.0,1071.2 1322.4,1071.4 C1314.8,1071.6 1305.3,1071.6 1299.6,1071.4 C1293.9,1071.2 1292.0,1070.8 1288.2,1070.5 C1284.4,1070.1 1279.8,1068.9 1276.8,1069.3 C1273.8,1069.8 1272.6,1071.9 1270.0,1073.2 C1267.3,1074.6 1263.9,1076.3 1260.8,1077.3 C1257.8,1078.4 1254.8,1079.3 1251.7,1079.6 C1248.7,1079.9 1246.0,1079.7 1242.6,1079.2 C1239.2,1078.6 1235.0,1077.3 1231.2,1076.2 C1227.4,1075.0 1223.6,1073.6 1219.8,1072.3 C1216.0,1071.0 1213.6,1069.6 1208.4,1068.2 C1203.2,1066.8 1191.7,1064.8 1188.3,1064.1 Z" fill="#D3C1AD"/>
<line x1="1174.2" y1="1068.9" x2="1479.7" y2="1068.9" stroke="#777" stroke-width="0.8" stroke-dasharray="1.6 2"/>
<path d="M1188.3,1019.9 C1189.8,1022.0 1193.7,1028.2 1197.0,1032.9 C1200.3,1037.5 1204.6,1043.3 1208.4,1047.7 C1212.2,1052.1 1216.0,1056.0 1219.8,1059.1 C1223.6,1062.1 1227.4,1064.1 1231.2,1065.9 C1235.0,1067.8 1238.8,1069.1 1242.6,1070.0 C1246.4,1071.0 1250.2,1071.5 1254.0,1071.6 C1257.8,1071.8 1261.6,1071.4 1265.4,1070.9 C1269.2,1070.5 1273.0,1069.9 1276.8,1068.7 C1280.6,1067.4 1284.4,1065.3 1288.2,1063.6 C1292.0,1062.0 1295.4,1060.2 1299.6,1058.6 C1303.8,1057.0 1308.7,1055.5 1313.3,1054.1 C1317.9,1052.6 1321.7,1051.3 1327.0,1050.0 C1332.3,1048.6 1338.4,1047.1 1345.2,1045.9 C1352.1,1044.6 1360.4,1043.6 1368.0,1042.7 C1375.6,1041.8 1383.2,1041.0 1390.8,1040.4 C1398.4,1039.8 1406.0,1039.6 1413.6,1039.3 C1421.2,1038.9 1427.3,1038.7 1436.4,1038.3 C1445.5,1038.0 1463.0,1037.2 1468.3,1037.0" fill="none" stroke="#E8802F" stroke-width="1.55" stroke-linecap="round"/>
<text transform="translate(1186.1,1117.2) scale(1.35,1)" font-size="4.6" text-anchor="middle" fill="#777777">150</text>
<text transform="translate(1231.2,1117.2) scale(1.35,1)" font-size="4.6" text-anchor="middle" fill="#777777">200</text>
<text transform="translate(1276.8,1117.2) scale(1.35,1)" font-size="4.6" text-anchor="middle" fill="#777777">250</text>
<text transform="translate(1322.0,1117.2) scale(1.35,1)" font-size="4.6" text-anchor="middle" fill="#777777">300</text>
<text transform="translate(1367.6,1117.2) scale(1.35,1)" font-size="4.6" text-anchor="middle" fill="#777777">350</text>
<text transform="translate(1412.9,1117.2) scale(1.35,1)" font-size="4.6" text-anchor="middle" fill="#777777">400</text>
<text transform="translate(1458.5,1117.2) scale(1.35,1)" font-size="4.6" text-anchor="middle" fill="#777777">450</text>
<text transform="translate(1168.5,936.4) scale(1.35,1)" font-size="4.6" text-anchor="middle" fill="#777777">3</text>
<text transform="translate(1168.5,1003.2) scale(1.35,1)" font-size="4.6" text-anchor="middle" fill="#777777">2</text>
<text transform="translate(1168.5,1070.5) scale(1.35,1)" font-size="4.6" text-anchor="middle" fill="#777777">1</text>
<text x="1328.1" y="1124.7" font-size="6.3" text-anchor="middle" textLength="30" lengthAdjust="spacingAndGlyphs" fill="#1a1a1a">TYGBMI</text>
<text transform="translate(1162.4,1018.0) rotate(-90)" font-size="5.6" text-anchor="middle" textLength="66" lengthAdjust="spacingAndGlyphs" fill="#1a1a1a">Hazard Ratio (95% CI)</text>
<text x="1339.5" y="947.3" font-size="8.2" textLength="122.5" lengthAdjust="spacingAndGlyphs" fill="#000" stroke="#000" stroke-width="0.12">P for non-linear = 0.037</text>
<text x="1339.5" y="958.7" font-size="8.2" textLength="104" lengthAdjust="spacingAndGlyphs" fill="#000" stroke="#000" stroke-width="0.12">P for overall &lt; 0.001</text>
</g>
</svg>
</body></html>
